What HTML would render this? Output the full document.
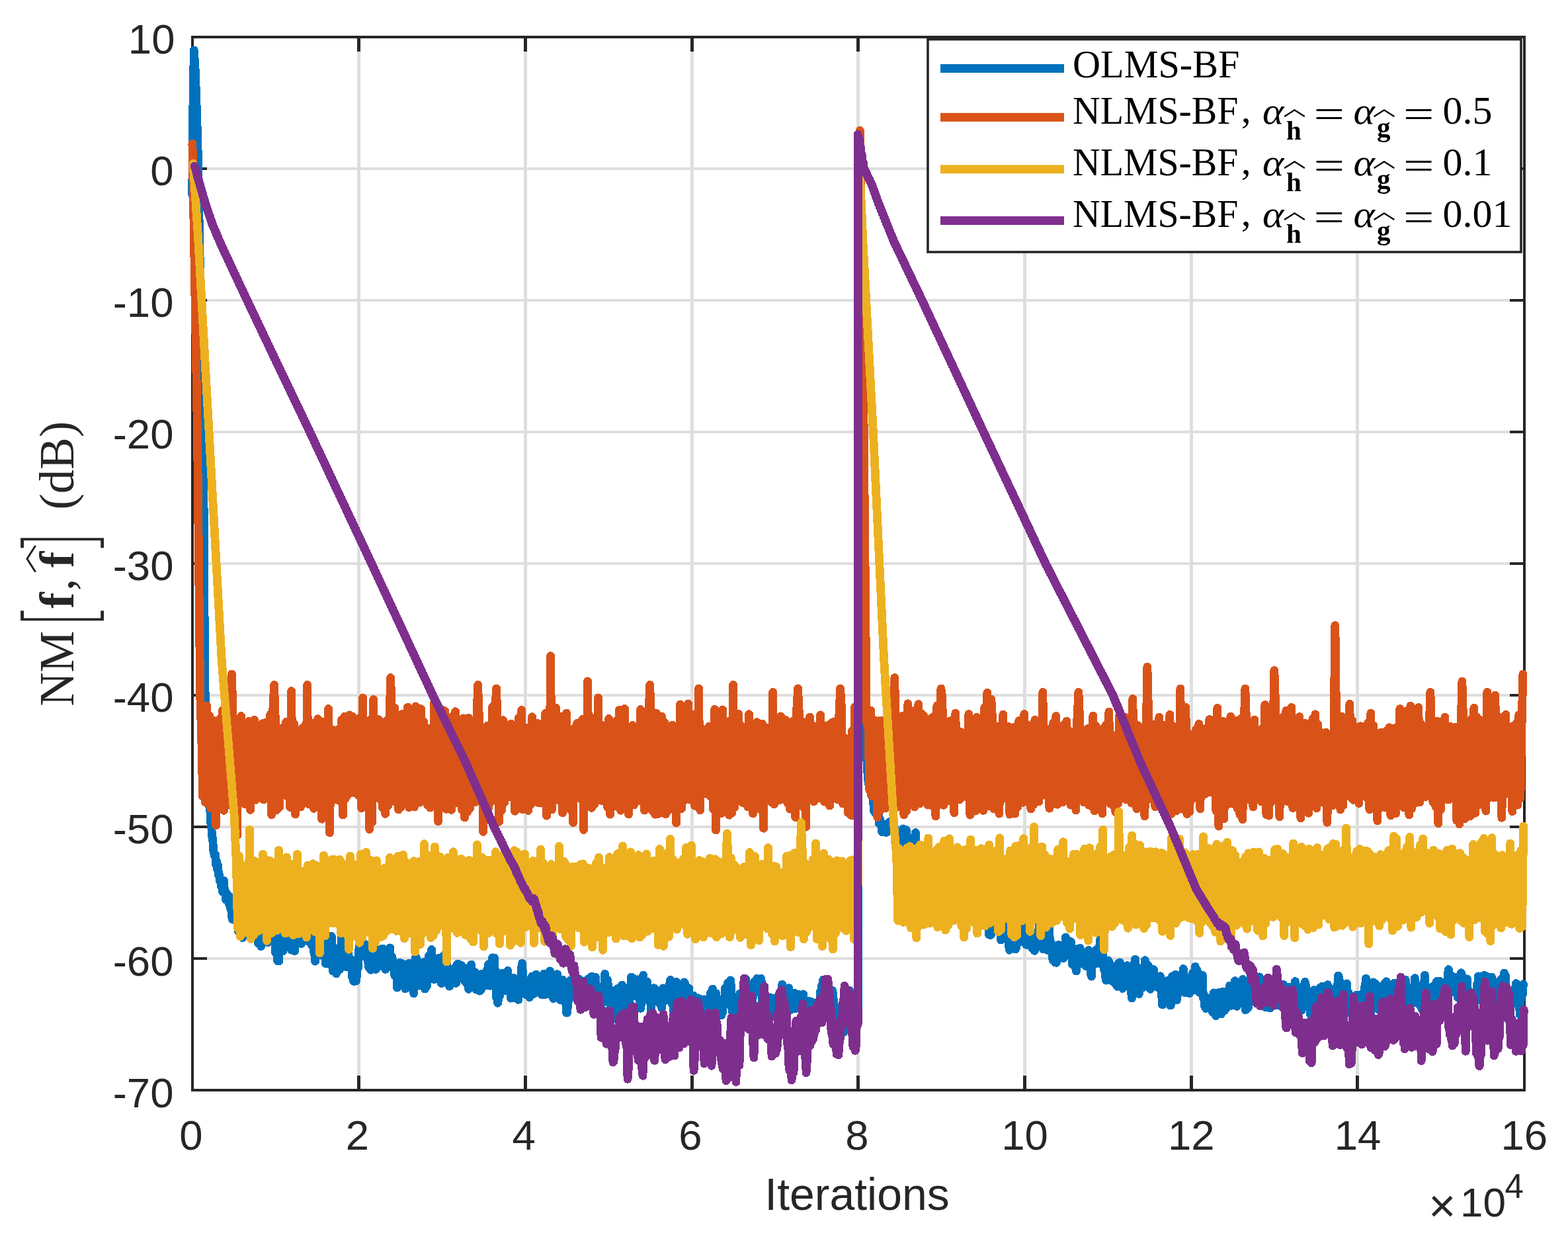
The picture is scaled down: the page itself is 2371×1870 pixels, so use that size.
<!DOCTYPE html>
<html><head><meta charset="utf-8"><title>NM plot</title><style>html,body{margin:0;padding:0;background:#fff;overflow:hidden}svg{display:block}</style></head><body>
<svg width="2371" height="1870" viewBox="0 0 2371 1870">
<rect x="0" y="0" width="2371" height="1870" fill="#ffffff"/>
<rect x="540" y="58" width="5" height="1588" fill="#dedede"/>
<rect x="792" y="58" width="5" height="1588" fill="#dedede"/>
<rect x="1044" y="58" width="5" height="1588" fill="#dedede"/>
<rect x="1295" y="58" width="5" height="1588" fill="#dedede"/>
<rect x="1547" y="58" width="5" height="1588" fill="#dedede"/>
<rect x="1799" y="58" width="5" height="1588" fill="#dedede"/>
<rect x="2050" y="58" width="5" height="1588" fill="#dedede"/>
<rect x="293" y="253" width="2010" height="4" fill="#dedede"/>
<rect x="293" y="452" width="2010" height="4" fill="#dedede"/>
<rect x="293" y="651" width="2010" height="4" fill="#dedede"/>
<rect x="293" y="850" width="2010" height="4" fill="#dedede"/>
<rect x="293" y="1049" width="2010" height="4" fill="#dedede"/>
<rect x="293" y="1248" width="2010" height="4" fill="#dedede"/>
<rect x="293" y="1447" width="2010" height="4" fill="#dedede"/>
<rect x="289" y="54" width="2018" height="4" fill="#262626"/>
<rect x="289" y="1646" width="2018" height="4" fill="#262626"/>
<rect x="289" y="54" width="4" height="1596" fill="#262626"/>
<rect x="2303" y="54" width="4" height="1596" fill="#262626"/>
<rect x="540" y="1626" width="5" height="20" fill="#262626"/>
<rect x="540" y="58" width="5" height="20" fill="#262626"/>
<rect x="792" y="1626" width="5" height="20" fill="#262626"/>
<rect x="792" y="58" width="5" height="20" fill="#262626"/>
<rect x="1044" y="1626" width="5" height="20" fill="#262626"/>
<rect x="1044" y="58" width="5" height="20" fill="#262626"/>
<rect x="1295" y="1626" width="5" height="20" fill="#262626"/>
<rect x="1295" y="58" width="5" height="20" fill="#262626"/>
<rect x="1547" y="1626" width="5" height="20" fill="#262626"/>
<rect x="1547" y="58" width="5" height="20" fill="#262626"/>
<rect x="1799" y="1626" width="5" height="20" fill="#262626"/>
<rect x="1799" y="58" width="5" height="20" fill="#262626"/>
<rect x="2050" y="1626" width="5" height="20" fill="#262626"/>
<rect x="2050" y="58" width="5" height="20" fill="#262626"/>
<rect x="293" y="253" width="20" height="4" fill="#262626"/>
<rect x="2283" y="253" width="20" height="4" fill="#262626"/>
<rect x="293" y="452" width="20" height="4" fill="#262626"/>
<rect x="2283" y="452" width="20" height="4" fill="#262626"/>
<rect x="293" y="651" width="20" height="4" fill="#262626"/>
<rect x="2283" y="651" width="20" height="4" fill="#262626"/>
<rect x="293" y="850" width="20" height="4" fill="#262626"/>
<rect x="2283" y="850" width="20" height="4" fill="#262626"/>
<rect x="293" y="1049" width="20" height="4" fill="#262626"/>
<rect x="2283" y="1049" width="20" height="4" fill="#262626"/>
<rect x="293" y="1248" width="20" height="4" fill="#262626"/>
<rect x="2283" y="1248" width="20" height="4" fill="#262626"/>
<rect x="293" y="1447" width="20" height="4" fill="#262626"/>
<rect x="2283" y="1447" width="20" height="4" fill="#262626"/>
<polyline fill="none" stroke="#0072bd" stroke-width="12.8" stroke-linejoin="round" stroke-linecap="round" shape-rendering="crispEdges"  points="290.8,294.8 291.3,195.3 293.3,75.9 295.2,105.8 297.0,155.5 298.9,215.2 300.8,314.7 303.3,454.0 307.4,653.0 309.6,1011.2 311.6,1147.6 312.6,1167.1 313.6,1170.2 314.6,1202.3 315.6,1204.6 316.6,1219.3 317.6,1221.0 318.6,1244.3 319.6,1247.5 320.6,1264.3 321.6,1267.6 322.6,1284.7 323.6,1290.2 324.6,1294.3 325.6,1291.9 326.6,1307.3 327.6,1302.8 328.6,1314.7 329.6,1308.7 330.6,1323.4 331.6,1321.9 332.6,1332.2 333.6,1334.0 334.6,1340.0 335.6,1337.0 336.6,1348.3 337.6,1347.8 338.6,1331.4 339.6,1350.6 340.6,1348.3 341.6,1360.3 342.6,1350.2 343.6,1353.8 344.6,1361.9 345.6,1354.0 346.6,1367.6 347.6,1368.3 348.6,1373.4 349.6,1374.5 350.6,1386.4 351.6,1389.9 352.6,1367.4 353.6,1365.8 354.6,1375.7 355.6,1373.2 356.6,1385.6 357.6,1381.2 358.6,1394.9 359.6,1398.3 360.6,1408.6 361.6,1383.8 362.6,1403.4 363.6,1412.5 364.6,1396.5 365.6,1403.2 366.6,1417.6 367.6,1413.6 368.6,1403.9 369.6,1401.7 370.6,1410.2 371.6,1392.0 372.6,1404.7 373.6,1406.4 374.6,1392.1 375.6,1400.2 376.6,1378.5 377.6,1385.0 378.6,1373.5 379.6,1379.0 380.6,1402.3 381.6,1398.5 382.6,1406.0 383.6,1398.7 384.6,1385.4 385.6,1408.7 386.6,1398.5 387.6,1413.8 388.6,1402.7 389.6,1406.6 390.6,1426.3 391.6,1408.1 392.6,1419.7 393.6,1404.6 394.6,1430.7 395.6,1421.3 396.6,1407.0 397.6,1405.5 398.6,1422.3 399.6,1407.1 400.6,1416.8 401.6,1412.0 402.6,1401.8 403.6,1406.0 404.6,1424.9 405.6,1410.2 406.6,1397.2 407.6,1411.5 408.6,1421.3 409.6,1414.0 410.6,1401.1 411.6,1394.6 412.6,1406.1 413.6,1401.9 414.6,1421.9 415.6,1421.8 416.6,1440.2 417.6,1441.6 418.6,1420.3 419.6,1452.5 420.6,1443.5 421.6,1452.9 422.6,1431.5 423.6,1433.5 424.6,1422.5 425.6,1414.4 426.6,1432.0 427.6,1437.8 428.6,1419.7 429.6,1420.1 430.6,1430.5 431.6,1430.6 432.6,1416.4 433.6,1420.3 434.6,1409.4 435.6,1406.9 436.6,1417.0 437.6,1420.4 438.6,1409.0 439.6,1423.1 440.6,1436.2 441.6,1433.8 442.6,1418.3 443.6,1430.5 444.6,1422.8 445.6,1437.8 446.6,1417.6 447.6,1409.9 448.6,1400.4 449.6,1403.7 450.6,1415.5 451.6,1418.3 452.6,1401.4 453.6,1414.0 454.6,1396.3 455.6,1426.6 456.6,1415.3 457.6,1417.8 458.6,1407.1 459.6,1422.8 460.6,1399.3 461.6,1401.1 462.6,1410.1 463.6,1406.1 464.6,1422.2 465.6,1422.8 466.6,1406.8 467.6,1410.2 468.6,1398.7 469.6,1421.7 470.6,1396.8 471.6,1429.3 472.6,1419.2 473.6,1418.2 474.6,1439.5 475.6,1441.0 476.6,1453.2 477.6,1430.4 478.6,1444.2 479.6,1436.9 480.6,1421.8 481.6,1419.2 482.6,1426.1 483.6,1430.2 484.6,1444.2 485.6,1437.7 486.6,1415.4 487.6,1420.7 488.6,1433.7 489.6,1427.1 490.6,1438.6 491.6,1442.4 492.6,1457.0 493.6,1455.3 494.6,1432.7 495.6,1430.5 496.6,1447.6 497.6,1434.7 498.6,1448.2 499.6,1437.3 500.6,1415.1 501.6,1416.6 502.6,1461.6 503.6,1468.1 504.6,1454.1 505.6,1458.1 506.6,1444.3 507.6,1455.8 508.6,1471.9 509.6,1450.1 510.6,1433.8 511.6,1445.8 512.6,1462.5 513.6,1465.7 514.6,1430.7 515.6,1435.0 516.6,1411.6 517.6,1406.4 518.6,1415.8 519.6,1417.8 520.6,1438.1 521.6,1437.5 522.6,1449.6 523.6,1461.5 524.6,1447.9 525.6,1451.2 526.6,1439.3 527.6,1460.5 528.6,1449.7 529.6,1448.8 530.6,1462.5 531.6,1462.2 532.6,1477.5 533.6,1465.4 534.6,1483.3 535.6,1483.5 536.6,1476.0 537.6,1465.5 538.6,1482.9 539.6,1473.1 540.6,1454.9 541.6,1462.3 542.6,1437.4 543.6,1427.6 544.6,1438.8 545.6,1430.9 546.6,1443.2 547.6,1438.5 548.6,1445.9 549.6,1442.2 550.6,1429.4 551.6,1427.0 552.6,1437.2 553.6,1438.2 554.6,1447.7 555.6,1434.0 556.6,1452.2 557.6,1462.8 558.6,1454.8 559.6,1456.6 560.6,1466.2 561.6,1461.8 562.6,1440.3 563.6,1452.5 564.6,1436.1 565.6,1457.4 566.6,1432.5 567.6,1452.0 568.6,1465.5 569.6,1463.7 570.6,1453.9 571.6,1459.0 572.6,1445.1 573.6,1447.4 574.6,1458.1 575.6,1450.3 576.6,1434.9 577.6,1439.9 578.6,1434.0 579.6,1441.5 580.6,1460.8 581.6,1457.6 582.6,1465.4 583.6,1461.5 584.6,1443.3 585.6,1446.9 586.6,1456.9 587.6,1454.4 588.6,1440.5 589.6,1432.9 590.6,1461.8 591.6,1459.3 592.6,1446.0 593.6,1460.4 594.6,1452.1 595.6,1461.7 596.6,1474.7 597.6,1471.7 598.6,1464.7 599.6,1468.8 600.6,1493.2 601.6,1482.9 602.6,1458.8 603.6,1467.7 604.6,1455.5 605.6,1466.5 606.6,1456.9 607.6,1456.3 608.6,1476.0 609.6,1481.1 610.6,1490.6 611.6,1481.0 612.6,1494.8 613.6,1476.3 614.6,1486.3 615.6,1477.3 616.6,1467.0 617.6,1474.2 618.6,1456.1 619.6,1470.0 620.6,1460.3 621.6,1478.2 622.6,1465.4 623.6,1459.9 624.6,1496.6 625.6,1501.8 626.6,1479.3 627.6,1478.1 628.6,1446.2 629.6,1448.1 630.6,1466.8 631.6,1460.1 632.6,1488.2 633.6,1490.1 634.6,1470.7 635.6,1475.0 636.6,1460.2 637.6,1470.3 638.6,1460.0 639.6,1454.8 640.6,1476.8 641.6,1471.3 642.6,1495.1 643.6,1472.0 644.6,1491.8 645.6,1490.3 646.6,1451.6 647.6,1458.0 648.6,1444.8 649.6,1447.3 650.6,1458.6 651.6,1457.9 652.6,1435.5 653.6,1463.4 654.6,1480.1 655.6,1465.5 656.6,1480.6 657.6,1475.0 658.6,1455.5 659.6,1474.2 660.6,1456.7 661.6,1466.1 662.6,1455.6 663.6,1448.2 664.6,1470.3 665.6,1466.3 666.6,1483.4 667.6,1486.7 668.6,1451.6 669.6,1445.6 670.6,1464.1 671.6,1465.1 672.6,1448.4 673.6,1458.3 674.6,1439.4 675.6,1456.9 676.6,1477.9 677.6,1479.9 678.6,1464.7 679.6,1491.2 680.6,1475.5 681.6,1480.5 682.6,1465.1 683.6,1483.9 684.6,1474.3 685.6,1475.1 686.6,1485.0 687.6,1471.6 688.6,1483.8 689.6,1486.3 690.6,1458.6 691.6,1469.1 692.6,1457.0 693.6,1461.5 694.6,1474.1 695.6,1461.8 696.6,1472.9 697.6,1459.5 698.6,1472.8 699.6,1475.7 700.6,1462.6 701.6,1465.2 702.6,1483.5 703.6,1482.6 704.6,1469.7 705.6,1478.1 706.6,1488.3 707.6,1479.6 708.6,1495.4 709.6,1465.1 710.6,1476.8 711.6,1466.6 712.6,1458.1 713.6,1467.4 714.6,1487.3 715.6,1487.7 716.6,1474.3 717.6,1482.7 718.6,1469.8 719.6,1495.8 720.6,1474.5 721.6,1478.7 722.6,1496.9 723.6,1488.4 724.6,1494.5 725.6,1498.1 726.6,1487.4 727.6,1495.1 728.6,1472.2 729.6,1476.3 730.6,1485.5 731.6,1483.2 732.6,1475.6 733.6,1475.6 734.6,1487.0 735.6,1489.2 736.6,1465.6 737.6,1467.7 738.6,1458.0 739.6,1457.2 740.6,1490.3 741.6,1483.9 742.6,1460.5 743.6,1456.4 744.6,1447.8 746.1,1448.2 747.6,1448.1 748.6,1477.4 749.6,1483.5 750.6,1508.6 751.6,1503.3 752.6,1516.3 753.6,1510.3 754.6,1495.2 755.6,1505.4 756.6,1486.6 757.6,1486.3 758.6,1471.1 759.6,1475.6 760.6,1498.1 761.6,1495.3 762.6,1479.1 763.6,1482.8 764.6,1476.1 765.6,1484.4 766.6,1498.0 767.6,1467.4 768.6,1483.7 769.6,1485.4 770.6,1495.7 771.6,1491.4 772.6,1509.2 773.6,1495.0 774.6,1503.9 775.6,1509.0 776.6,1478.2 777.6,1496.4 778.6,1487.0 779.6,1480.7 780.6,1497.9 781.6,1493.7 782.6,1505.4 783.6,1511.4 784.6,1493.7 785.6,1495.6 786.6,1481.0 787.6,1494.4 788.6,1462.1 789.6,1456.3 790.6,1475.2 791.6,1478.5 792.6,1501.6 793.6,1495.9 794.6,1503.3 795.6,1503.9 796.6,1483.9 797.6,1485.4 798.6,1504.0 799.6,1487.6 800.6,1507.7 801.6,1503.8 802.6,1483.4 803.6,1493.2 804.6,1476.0 805.6,1493.7 806.6,1502.6 807.6,1499.9 808.6,1484.6 809.6,1483.6 810.6,1473.1 811.6,1489.6 812.6,1476.3 813.6,1491.0 814.6,1480.2 815.6,1483.8 816.6,1496.4 817.6,1502.3 818.6,1488.1 819.6,1503.9 820.6,1485.7 821.6,1487.5 822.6,1472.0 823.6,1482.7 824.6,1503.4 825.6,1502.5 826.6,1480.4 827.6,1478.1 828.6,1495.4 829.6,1502.6 830.6,1473.6 831.6,1467.9 832.6,1484.5 833.6,1481.2 834.6,1498.7 835.6,1496.2 836.6,1509.6 837.6,1505.0 838.6,1486.2 839.6,1490.5 840.6,1483.4 841.6,1485.9 842.6,1472.7 843.6,1479.0 844.6,1494.4 845.6,1493.5 846.6,1509.5 847.6,1511.9 848.6,1493.0 849.6,1490.4 850.6,1481.2 851.6,1485.7 852.6,1500.2 853.6,1490.2 854.6,1511.6 855.6,1514.2 856.6,1531.0 857.6,1531.2 858.6,1518.8 859.6,1511.6 860.6,1487.8 861.6,1497.1 862.6,1481.8 863.6,1488.4 864.6,1506.8 865.6,1504.0 866.6,1492.0 867.6,1496.9 868.6,1479.3 869.6,1480.5 870.6,1488.6 871.6,1500.8 872.6,1490.9 873.6,1495.9 874.6,1485.8 875.6,1480.2 876.6,1510.8 877.6,1508.9 878.6,1484.4 879.6,1492.2 880.6,1511.5 881.6,1511.0 882.6,1522.5 883.6,1515.0 884.6,1502.9 885.6,1501.7 886.6,1515.1 887.6,1497.7 888.6,1481.6 889.6,1479.6 890.6,1491.0 891.6,1497.0 892.6,1485.3 893.6,1484.8 894.6,1476.1 895.6,1483.6 896.6,1513.8 897.6,1488.1 898.6,1498.1 899.6,1494.6 900.6,1477.4 901.6,1494.7 902.6,1509.8 903.6,1505.5 904.6,1524.8 905.6,1512.6 906.6,1499.1 907.6,1510.8 908.6,1495.8 909.6,1510.3 910.6,1499.4 911.6,1515.8 912.6,1490.0 913.6,1493.6 914.6,1472.3 915.6,1495.1 916.6,1486.1 917.6,1493.7 918.6,1481.4 919.6,1491.0 920.6,1499.5 921.6,1495.0 922.6,1514.9 923.6,1523.7 924.6,1508.8 925.6,1532.9 926.6,1519.6 927.6,1527.3 928.6,1535.3 929.6,1539.6 930.6,1523.1 931.6,1522.8 932.6,1505.9 933.6,1494.6 934.6,1512.0 935.6,1508.5 936.6,1530.3 937.6,1525.9 938.6,1504.8 939.6,1504.0 940.6,1489.1 941.6,1496.6 942.6,1514.4 943.6,1535.8 944.6,1505.3 945.6,1500.9 946.6,1509.2 947.6,1507.5 948.6,1492.9 949.6,1505.3 950.6,1521.2 951.6,1511.1 952.6,1491.2 953.6,1493.7 954.6,1477.1 955.6,1494.2 956.6,1478.4 957.6,1492.3 958.6,1480.8 959.6,1489.8 960.6,1505.5 961.6,1499.6 962.6,1485.3 963.6,1480.8 964.6,1493.6 965.6,1486.5 966.6,1504.7 967.6,1511.3 968.6,1524.4 969.6,1516.0 970.6,1490.0 971.6,1507.1 972.6,1474.3 973.6,1482.2 974.6,1496.6 975.6,1487.5 976.6,1499.0 977.6,1494.8 978.6,1484.1 979.6,1494.2 980.6,1504.7 981.6,1513.0 982.6,1502.2 983.6,1515.1 984.6,1528.4 985.6,1511.2 986.6,1499.5 987.6,1512.4 988.6,1493.7 989.6,1503.9 990.6,1495.1 991.6,1511.5 992.6,1502.0 993.6,1503.3 994.6,1512.9 995.6,1506.9 996.6,1516.4 997.6,1515.5 998.6,1503.2 999.6,1509.3 1000.6,1523.9 1001.6,1514.3 1002.6,1493.9 1003.6,1501.4 1004.6,1510.3 1005.6,1504.1 1006.6,1511.7 1007.6,1510.9 1008.6,1501.7 1009.6,1494.4 1010.6,1503.8 1011.6,1511.9 1012.6,1487.8 1013.6,1481.4 1014.6,1503.0 1015.6,1501.8 1016.6,1518.8 1017.6,1513.3 1018.6,1529.2 1019.6,1516.8 1020.6,1497.0 1021.6,1497.6 1022.6,1484.4 1023.6,1493.1 1024.6,1504.4 1025.6,1496.7 1026.6,1511.0 1027.6,1495.4 1028.6,1512.4 1029.6,1502.2 1030.6,1510.1 1031.6,1506.5 1032.6,1526.5 1033.6,1504.8 1034.6,1484.8 1035.6,1486.1 1036.6,1509.8 1037.6,1508.3 1038.6,1525.0 1039.6,1516.2 1040.6,1505.8 1041.6,1493.7 1042.6,1509.4 1043.6,1510.4 1044.6,1518.2 1045.6,1523.6 1046.6,1513.8 1047.6,1515.0 1048.6,1505.1 1049.6,1509.0 1050.6,1519.1 1051.6,1511.2 1052.6,1536.8 1053.6,1540.3 1054.6,1518.8 1055.6,1508.8 1056.6,1526.9 1057.6,1515.0 1058.6,1535.2 1059.6,1535.7 1060.6,1523.9 1061.6,1540.9 1062.6,1532.2 1063.6,1538.4 1064.6,1510.9 1065.6,1512.7 1066.6,1525.2 1067.6,1525.9 1068.6,1513.2 1069.6,1525.9 1070.6,1537.0 1071.6,1522.9 1072.6,1545.1 1073.6,1530.2 1074.6,1500.8 1075.6,1502.8 1076.6,1517.2 1077.6,1495.1 1078.6,1513.4 1079.6,1523.1 1080.6,1510.1 1081.6,1511.6 1082.6,1501.6 1083.6,1511.1 1084.6,1520.1 1085.6,1520.5 1086.6,1534.5 1087.6,1532.0 1088.6,1516.1 1089.6,1526.2 1090.6,1535.0 1091.6,1515.3 1092.6,1530.8 1093.6,1517.0 1094.6,1510.1 1095.6,1510.7 1096.6,1493.8 1097.6,1495.0 1098.6,1506.8 1099.6,1505.9 1100.6,1485.7 1101.6,1488.8 1102.6,1499.9 1103.6,1493.5 1104.6,1481.9 1105.6,1492.5 1106.6,1524.4 1107.6,1524.5 1108.6,1548.7 1109.6,1524.1 1110.6,1539.8 1111.6,1527.5 1112.6,1513.2 1113.6,1511.5 1114.6,1518.1 1115.6,1519.5 1116.6,1511.0 1117.6,1514.7 1118.6,1502.2 1119.6,1513.1 1120.6,1526.6 1121.6,1513.4 1122.6,1501.3 1123.6,1505.5 1124.6,1493.6 1125.6,1501.1 1126.6,1481.9 1127.6,1479.8 1128.6,1507.6 1129.6,1506.5 1130.6,1523.3 1131.6,1524.5 1132.6,1505.5 1133.6,1510.3 1134.6,1528.0 1135.6,1521.6 1136.6,1508.2 1137.6,1522.1 1138.6,1497.8 1139.6,1501.2 1140.6,1484.1 1141.6,1501.4 1142.6,1486.3 1143.6,1481.7 1144.6,1479.3 1145.6,1485.2 1146.6,1491.3 1147.6,1485.7 1148.6,1497.7 1149.6,1484.7 1150.6,1479.1 1151.6,1485.9 1152.6,1514.4 1153.6,1504.1 1154.6,1515.4 1155.6,1519.3 1156.6,1531.2 1157.6,1525.6 1158.6,1548.3 1159.6,1548.8 1160.6,1534.6 1161.6,1530.3 1162.6,1521.3 1163.6,1521.3 1164.6,1507.9 1165.6,1512.4 1166.6,1532.5 1167.6,1519.1 1168.6,1537.2 1169.6,1524.5 1170.6,1509.4 1171.6,1516.1 1172.6,1531.2 1173.6,1529.9 1174.6,1524.4 1175.6,1525.5 1176.6,1506.0 1177.6,1503.7 1178.6,1514.2 1179.6,1518.5 1180.6,1498.7 1181.6,1496.9 1182.6,1488.2 1183.6,1502.7 1184.6,1520.3 1185.6,1515.9 1186.6,1524.9 1187.6,1515.9 1188.6,1502.6 1189.6,1511.6 1190.6,1495.7 1191.6,1505.1 1192.6,1493.6 1193.6,1501.6 1194.6,1505.0 1195.6,1508.9 1196.6,1526.3 1197.6,1521.1 1198.6,1506.3 1199.6,1514.4 1200.6,1507.1 1201.6,1501.3 1202.6,1523.7 1203.6,1524.8 1204.6,1505.2 1205.6,1517.8 1206.6,1505.0 1207.6,1503.5 1208.6,1514.0 1209.6,1510.5 1210.6,1516.8 1211.6,1519.3 1212.6,1507.3 1213.6,1524.3 1214.6,1502.9 1215.6,1522.2 1216.6,1542.3 1217.6,1536.6 1218.6,1523.6 1219.6,1537.9 1220.6,1515.7 1221.6,1526.8 1222.6,1514.5 1223.6,1513.5 1224.6,1532.8 1225.6,1535.6 1226.6,1514.3 1227.6,1534.3 1228.6,1543.0 1229.6,1550.9 1230.6,1541.7 1231.6,1550.9 1232.6,1543.0 1233.6,1533.7 1234.6,1522.7 1235.6,1515.3 1236.6,1525.3 1237.6,1528.1 1238.6,1513.3 1239.6,1518.5 1240.6,1498.6 1241.6,1504.4 1242.6,1489.9 1243.6,1496.3 1244.6,1481.4 1245.6,1481.8 1246.6,1489.0 1247.6,1489.1 1248.6,1515.9 1249.6,1507.4 1250.6,1492.5 1251.6,1495.8 1252.6,1509.2 1253.6,1507.3 1254.6,1521.5 1255.6,1516.5 1256.6,1526.1 1257.6,1523.6 1258.6,1497.6 1259.6,1502.1 1260.6,1516.4 1261.6,1521.4 1262.6,1527.5 1263.6,1522.4 1264.6,1532.9 1265.6,1525.1 1266.6,1539.4 1267.6,1536.1 1268.6,1556.2 1269.6,1555.0 1270.6,1538.9 1271.6,1528.9 1272.6,1550.1 1273.6,1548.4 1274.6,1557.6 1275.6,1560.8 1276.6,1542.8 1277.6,1537.1 1278.6,1545.7 1279.6,1551.9 1280.6,1541.5 1281.6,1549.1 1282.6,1518.6 1283.6,1529.4 1284.6,1497.4 1285.6,1504.8 1286.6,1525.4 1287.6,1534.5 1288.6,1548.9 1289.6,1535.1 1290.6,1547.7 1291.6,1550.4 1292.6,1528.6 1293.6,1531.5 1294.6,1523.1 1295.6,1533.4 1296.6,1542.3 1297.8,1528.6 1297.9,255.0 1299.6,235.1 1301.5,653.0 1305.3,1051.0 1312.4,1176.9 1313.4,1184.7 1314.4,1186.0 1315.4,1193.7 1316.4,1192.2 1317.4,1201.7 1318.4,1200.5 1319.4,1205.4 1320.4,1206.6 1321.4,1225.7 1322.4,1222.4 1323.4,1228.8 1324.4,1227.4 1325.4,1219.2 1326.4,1232.7 1327.4,1227.1 1328.4,1230.0 1329.4,1245.4 1330.4,1237.8 1331.4,1245.0 1332.4,1245.2 1333.4,1256.4 1334.4,1258.0 1335.4,1250.6 1336.4,1252.6 1337.4,1247.1 1338.4,1248.6 1339.4,1255.0 1340.4,1258.5 1341.4,1245.3 1342.4,1250.0 1343.4,1244.1 1344.4,1242.7 1345.4,1251.5 1346.4,1247.3 1347.4,1253.9 1348.4,1247.0 1349.4,1251.8 1350.4,1253.1 1351.4,1244.5 1352.4,1249.7 1353.4,1273.0 1354.4,1269.0 1355.4,1280.4 1356.4,1276.6 1357.4,1290.1 1358.4,1295.2 1359.4,1274.1 1360.4,1286.3 1361.4,1276.5 1362.4,1285.9 1363.4,1272.4 1364.4,1270.2 1365.4,1252.9 1366.4,1254.1 1367.4,1273.6 1368.4,1269.6 1369.4,1260.9 1370.4,1254.7 1371.4,1266.5 1372.4,1267.4 1373.4,1279.2 1374.4,1283.3 1375.4,1299.3 1376.4,1294.0 1377.4,1268.6 1378.4,1275.3 1379.4,1290.3 1380.4,1286.2 1381.4,1276.5 1382.4,1278.2 1383.4,1264.2 1384.4,1258.7 1385.4,1284.6 1386.4,1283.9 1387.4,1294.1 1388.4,1288.3 1389.4,1296.4 1390.4,1300.1 1391.4,1290.2 1392.4,1306.0 1393.4,1294.4 1394.4,1317.8 1395.4,1296.3 1396.4,1300.9 1397.4,1288.2 1398.4,1304.3 1399.4,1282.7 1400.4,1283.3 1401.4,1306.5 1402.4,1310.9 1403.4,1293.7 1404.4,1293.2 1405.4,1316.3 1406.4,1308.3 1407.4,1324.8 1408.4,1328.3 1409.4,1314.2 1410.4,1316.8 1411.4,1333.9 1412.4,1327.7 1413.4,1316.1 1414.4,1334.5 1415.4,1355.5 1416.4,1355.8 1417.4,1338.6 1418.4,1340.9 1419.4,1330.4 1420.4,1339.9 1421.4,1325.5 1422.4,1311.6 1423.4,1329.6 1424.4,1340.6 1425.4,1332.5 1426.4,1344.0 1427.4,1335.1 1428.4,1335.9 1429.4,1322.9 1430.4,1351.8 1431.4,1338.6 1432.4,1351.1 1433.4,1336.4 1434.4,1356.3 1435.4,1346.1 1436.4,1349.9 1437.4,1334.0 1438.4,1330.8 1439.4,1339.6 1440.4,1332.0 1441.4,1349.0 1442.4,1344.1 1443.4,1366.7 1444.4,1369.6 1445.4,1383.0 1446.4,1370.0 1447.4,1383.3 1448.4,1386.5 1449.4,1366.9 1450.4,1369.9 1451.4,1351.2 1452.4,1371.9 1453.4,1380.8 1454.4,1383.5 1455.4,1364.9 1456.4,1365.9 1457.4,1355.6 1458.4,1359.1 1459.4,1348.9 1460.4,1358.2 1461.4,1346.0 1462.4,1368.0 1463.4,1344.7 1464.4,1353.7 1465.4,1337.3 1466.4,1349.3 1467.4,1368.9 1468.4,1372.5 1469.4,1366.5 1470.4,1369.4 1471.4,1359.1 1472.4,1348.5 1473.4,1362.4 1474.4,1370.9 1475.4,1362.5 1476.4,1371.8 1477.4,1392.7 1478.4,1391.2 1479.4,1401.2 1480.4,1399.9 1481.4,1382.0 1482.4,1378.7 1483.4,1384.8 1484.4,1380.2 1485.4,1392.6 1486.4,1393.0 1487.4,1385.9 1488.4,1395.3 1489.4,1382.9 1490.4,1387.7 1491.4,1371.8 1492.4,1372.8 1493.4,1395.2 1494.4,1378.3 1495.4,1412.6 1496.4,1403.2 1497.4,1413.8 1498.4,1413.3 1499.4,1402.8 1500.4,1403.6 1501.4,1387.6 1502.4,1394.6 1503.4,1376.1 1504.4,1382.6 1505.4,1399.0 1506.4,1406.0 1507.4,1385.1 1508.4,1383.8 1509.4,1408.2 1510.4,1393.8 1511.4,1407.4 1512.4,1405.3 1513.4,1421.0 1514.4,1412.6 1515.4,1384.3 1516.4,1385.1 1517.4,1376.6 1518.4,1384.4 1519.4,1376.2 1520.4,1380.7 1521.4,1368.1 1522.4,1368.3 1523.4,1376.6 1524.4,1380.8 1525.4,1429.1 1526.4,1436.2 1527.4,1423.3 1528.4,1414.4 1529.4,1399.4 1530.4,1399.8 1531.4,1411.1 1532.4,1411.0 1533.4,1430.7 1534.4,1409.6 1535.4,1434.9 1536.4,1433.3 1537.4,1400.3 1538.4,1396.8 1539.4,1416.3 1540.4,1407.0 1541.4,1414.3 1542.4,1409.4 1543.4,1403.9 1544.4,1424.0 1545.4,1409.7 1546.4,1410.1 1547.4,1405.5 1548.4,1398.8 1549.4,1417.8 1550.4,1413.4 1551.4,1428.0 1552.4,1421.9 1553.4,1427.5 1554.4,1429.0 1555.4,1420.7 1556.4,1420.8 1557.4,1427.9 1558.4,1427.1 1559.4,1408.0 1560.4,1432.9 1561.4,1416.9 1562.4,1415.9 1563.4,1434.0 1564.4,1437.4 1565.4,1423.3 1566.4,1420.9 1567.4,1429.6 1568.4,1431.4 1569.4,1419.5 1570.4,1417.0 1571.4,1394.5 1572.4,1409.6 1573.4,1394.8 1574.4,1411.9 1575.4,1429.3 1576.4,1423.8 1577.4,1434.9 1578.4,1429.1 1579.4,1416.4 1580.4,1416.0 1581.4,1400.7 1582.4,1413.4 1583.4,1436.4 1584.4,1430.4 1585.4,1412.9 1586.4,1400.3 1587.4,1421.7 1588.4,1422.9 1589.4,1432.5 1590.4,1429.0 1591.4,1447.8 1592.4,1451.7 1593.4,1441.3 1594.4,1443.8 1595.4,1455.1 1596.4,1437.9 1597.4,1455.3 1598.4,1446.5 1599.4,1429.7 1600.4,1428.4 1601.4,1441.9 1602.4,1429.2 1603.4,1440.9 1604.4,1447.6 1605.4,1433.7 1606.4,1429.4 1607.4,1448.5 1608.4,1448.2 1609.4,1433.0 1610.4,1430.4 1611.4,1416.8 1612.4,1418.7 1613.4,1424.6 1614.4,1422.6 1615.4,1432.9 1616.4,1424.3 1617.4,1443.7 1618.4,1439.5 1619.4,1423.7 1620.4,1431.6 1621.4,1457.6 1622.4,1447.1 1623.4,1455.0 1624.4,1447.6 1625.4,1462.1 1626.4,1459.1 1627.4,1468.0 1628.4,1459.8 1629.4,1434.5 1630.4,1434.4 1631.4,1450.8 1632.4,1450.5 1633.4,1433.5 1634.4,1439.5 1635.4,1451.6 1636.4,1448.8 1637.4,1456.5 1638.4,1455.2 1639.4,1441.3 1640.4,1447.0 1641.4,1460.4 1642.4,1458.5 1643.4,1449.3 1644.4,1450.1 1645.4,1438.0 1646.4,1436.5 1647.4,1452.2 1648.4,1445.4 1649.4,1472.2 1650.4,1476.2 1651.4,1453.0 1652.4,1443.9 1653.4,1454.4 1654.4,1445.2 1655.4,1454.8 1656.4,1457.1 1657.4,1435.6 1658.4,1440.6 1659.4,1448.5 1660.4,1433.6 1661.4,1454.6 1662.4,1435.8 1663.4,1421.1 1664.4,1428.5 1665.4,1457.7 1666.4,1455.1 1667.4,1443.1 1668.4,1455.5 1669.4,1465.8 1670.4,1459.0 1671.4,1474.7 1672.4,1482.2 1673.4,1470.2 1674.4,1472.2 1675.4,1451.9 1676.4,1452.6 1677.4,1462.2 1678.4,1457.2 1679.4,1473.5 1680.4,1467.3 1681.4,1483.3 1682.4,1480.4 1683.4,1466.7 1684.4,1471.7 1685.4,1486.1 1686.4,1472.7 1687.4,1484.9 1688.4,1480.9 1689.4,1491.4 1690.4,1470.8 1691.4,1455.9 1692.4,1471.1 1693.4,1454.9 1694.4,1467.2 1695.4,1481.2 1696.4,1472.0 1697.4,1494.5 1698.4,1479.3 1699.4,1491.5 1700.4,1480.4 1701.4,1461.8 1702.4,1466.0 1703.4,1485.5 1704.4,1459.6 1705.4,1477.4 1706.4,1469.0 1707.4,1477.6 1708.4,1477.2 1709.4,1492.5 1710.4,1497.7 1711.4,1509.0 1712.4,1499.7 1713.4,1479.6 1714.4,1479.8 1715.4,1456.2 1716.4,1450.2 1717.4,1465.3 1718.4,1461.5 1719.4,1471.7 1720.4,1462.9 1721.4,1491.0 1722.4,1502.5 1723.4,1492.8 1724.4,1492.0 1725.4,1484.7 1726.4,1478.4 1727.4,1493.3 1728.4,1479.1 1729.4,1468.3 1730.4,1473.4 1731.4,1451.7 1732.4,1454.4 1733.4,1471.1 1734.4,1462.9 1735.4,1470.9 1736.4,1459.8 1737.4,1477.9 1738.4,1474.8 1739.4,1495.3 1740.4,1493.1 1741.4,1480.3 1742.4,1478.9 1743.4,1465.2 1744.4,1465.9 1745.4,1475.0 1746.4,1479.5 1747.4,1486.1 1748.4,1483.4 1749.4,1487.6 1750.4,1492.6 1751.4,1477.7 1752.4,1478.7 1753.4,1490.6 1754.4,1475.7 1755.4,1495.8 1756.4,1498.6 1757.4,1518.7 1758.4,1518.7 1759.4,1498.5 1760.4,1495.3 1761.4,1510.1 1762.4,1500.8 1763.4,1494.5 1764.4,1500.8 1765.4,1482.2 1766.4,1482.8 1767.4,1498.0 1768.4,1493.0 1769.4,1519.8 1770.4,1519.9 1771.4,1489.6 1772.4,1476.1 1773.4,1492.9 1774.4,1489.7 1775.4,1505.6 1776.4,1494.5 1777.4,1473.3 1778.4,1500.5 1779.4,1511.8 1780.4,1504.7 1781.4,1483.5 1782.4,1486.9 1783.4,1474.2 1784.4,1478.1 1785.4,1487.1 1786.4,1473.2 1787.4,1480.4 1788.4,1484.9 1789.4,1464.5 1790.4,1484.7 1791.4,1497.0 1792.4,1501.0 1793.4,1482.2 1794.4,1478.1 1795.4,1490.0 1796.4,1479.3 1797.4,1497.1 1798.4,1501.6 1799.4,1492.0 1800.4,1488.5 1801.4,1498.0 1802.4,1497.7 1803.4,1471.1 1804.4,1471.0 1805.4,1482.8 1806.4,1475.7 1807.4,1461.3 1808.4,1470.0 1809.4,1476.1 1810.4,1467.4 1811.4,1474.5 1812.4,1473.8 1813.4,1500.2 1814.4,1500.5 1815.4,1489.2 1816.4,1497.7 1817.4,1475.1 1818.4,1474.3 1819.4,1508.9 1820.4,1504.7 1821.4,1520.7 1822.4,1514.0 1823.4,1524.5 1824.4,1507.8 1825.4,1517.0 1826.4,1511.1 1827.4,1523.8 1828.4,1509.8 1829.4,1522.2 1830.4,1514.5 1831.4,1520.9 1832.4,1514.7 1833.4,1530.1 1834.4,1515.3 1835.4,1500.8 1836.4,1506.3 1837.4,1525.2 1838.4,1535.5 1839.4,1524.9 1840.4,1528.2 1841.4,1504.2 1842.4,1509.4 1843.4,1500.5 1844.4,1504.1 1845.4,1523.1 1846.4,1533.1 1847.4,1511.5 1848.4,1510.4 1849.4,1499.0 1850.4,1503.2 1851.4,1527.7 1852.4,1525.0 1853.4,1507.6 1854.4,1524.2 1855.4,1500.4 1856.4,1503.6 1857.4,1509.6 1858.4,1509.7 1859.4,1490.1 1860.4,1494.8 1861.4,1520.2 1862.4,1520.1 1863.4,1496.0 1864.4,1494.8 1865.4,1506.6 1866.4,1496.7 1867.4,1482.6 1868.4,1492.4 1869.4,1516.4 1870.4,1521.3 1871.4,1498.0 1872.4,1498.3 1873.4,1508.6 1874.4,1509.3 1875.4,1496.3 1876.4,1505.7 1877.4,1485.8 1878.4,1499.9 1879.4,1480.4 1880.4,1495.2 1881.4,1512.8 1882.4,1505.8 1883.4,1526.9 1884.4,1509.9 1885.4,1515.8 1886.4,1507.2 1887.4,1523.6 1888.4,1502.1 1889.4,1514.8 1890.4,1495.7 1891.4,1469.1 1892.4,1496.0 1893.4,1485.1 1894.4,1498.2 1895.4,1473.8 1896.4,1473.3 1897.4,1484.2 1898.4,1483.5 1899.4,1498.9 1900.4,1502.2 1901.4,1484.2 1902.4,1480.2 1903.4,1492.6 1904.4,1476.8 1905.4,1491.3 1906.4,1485.0 1907.4,1498.9 1908.4,1499.1 1909.4,1508.7 1910.4,1503.2 1911.4,1515.8 1912.4,1506.5 1913.4,1522.8 1914.4,1519.5 1915.4,1500.4 1916.4,1498.9 1917.4,1511.6 1918.4,1504.6 1919.4,1520.2 1920.4,1524.1 1921.4,1509.1 1922.4,1510.3 1923.4,1498.6 1924.4,1494.7 1925.4,1483.4 1926.4,1489.6 1927.4,1504.9 1928.4,1499.6 1929.4,1519.4 1930.4,1505.6 1931.4,1517.7 1932.4,1502.1 1933.4,1517.4 1934.4,1520.1 1935.4,1505.2 1936.4,1506.5 1937.4,1518.4 1938.4,1513.9 1939.4,1495.5 1940.4,1488.4 1941.4,1502.0 1942.4,1506.5 1943.4,1494.1 1944.4,1511.9 1945.4,1493.0 1946.4,1493.4 1947.4,1505.6 1948.4,1492.4 1949.4,1512.3 1950.4,1506.9 1951.4,1495.2 1952.4,1506.5 1953.4,1515.5 1954.4,1514.6 1955.4,1498.9 1956.4,1506.9 1957.4,1490.3 1958.4,1483.6 1959.4,1509.8 1960.4,1505.2 1961.4,1525.7 1962.4,1529.2 1963.4,1516.8 1964.4,1527.2 1965.4,1507.2 1966.4,1508.8 1967.4,1527.8 1968.4,1527.0 1969.4,1502.6 1970.4,1507.6 1971.4,1489.3 1972.4,1497.8 1973.4,1484.5 1974.4,1490.7 1975.4,1503.3 1976.4,1498.6 1977.4,1508.0 1978.4,1504.6 1979.4,1514.6 1980.4,1517.3 1981.4,1533.4 1982.4,1517.9 1983.4,1540.9 1984.4,1534.5 1985.4,1499.2 1986.4,1496.7 1987.4,1505.0 1988.4,1511.6 1989.4,1526.8 1990.4,1511.9 1991.4,1520.6 1992.4,1525.8 1993.4,1516.0 1994.4,1521.9 1995.4,1494.0 1996.4,1492.9 1997.4,1505.0 1998.4,1501.1 1999.4,1491.1 2000.4,1505.0 2001.4,1521.0 2002.4,1509.4 2003.4,1494.8 2004.4,1516.1 2005.4,1501.2 2006.4,1516.7 2007.4,1488.6 2008.4,1492.7 2009.4,1507.0 2010.4,1498.8 2011.4,1522.7 2012.4,1523.9 2013.4,1494.8 2014.4,1497.6 2015.4,1512.7 2016.4,1511.6 2017.4,1501.0 2018.4,1511.9 2019.4,1505.6 2020.4,1506.6 2021.4,1496.5 2022.4,1497.1 2023.4,1475.0 2024.4,1476.2 2025.4,1497.2 2026.4,1483.7 2027.4,1494.4 2028.4,1488.0 2029.4,1499.1 2030.4,1493.9 2031.4,1511.2 2032.4,1506.0 2033.4,1519.6 2034.4,1507.7 2035.4,1497.5 2036.4,1486.8 2037.4,1508.6 2038.4,1516.2 2039.4,1501.3 2040.4,1506.8 2041.4,1526.6 2042.4,1518.9 2043.4,1533.0 2044.4,1533.0 2045.4,1521.5 2046.4,1527.7 2047.4,1517.8 2048.4,1528.1 2049.4,1540.9 2050.4,1521.2 2051.4,1504.1 2052.4,1506.4 2053.4,1534.3 2054.4,1535.2 2055.4,1516.3 2056.4,1511.0 2057.4,1530.4 2058.4,1517.2 2059.4,1502.6 2060.4,1521.1 2061.4,1507.6 2062.4,1505.4 2063.4,1492.0 2064.4,1491.2 2065.4,1479.3 2066.4,1483.0 2067.4,1521.5 2068.4,1525.0 2069.4,1531.5 2070.4,1519.2 2071.4,1534.4 2072.4,1539.7 2073.4,1506.2 2074.4,1506.4 2075.4,1487.1 2076.4,1484.9 2077.4,1507.8 2078.4,1504.1 2079.4,1487.0 2080.4,1502.3 2081.4,1490.9 2082.4,1489.8 2083.4,1524.4 2084.4,1525.9 2085.4,1509.2 2086.4,1508.1 2087.4,1526.1 2088.4,1514.2 2089.4,1500.3 2090.4,1498.3 2091.4,1508.3 2092.4,1506.3 2093.4,1487.2 2094.4,1490.1 2095.4,1484.7 2096.4,1483.7 2097.4,1499.0 2098.4,1489.1 2099.4,1509.1 2100.4,1514.9 2101.4,1497.9 2102.4,1499.8 2103.4,1495.4 2104.4,1491.7 2105.4,1501.6 2106.4,1494.1 2107.4,1500.0 2108.4,1486.1 2109.4,1498.3 2110.4,1497.0 2111.4,1509.0 2112.4,1489.4 2113.4,1505.5 2114.4,1503.4 2115.4,1515.4 2116.4,1495.3 2117.4,1516.6 2118.4,1511.9 2119.4,1497.0 2120.4,1497.8 2121.4,1506.3 2122.4,1509.1 2123.4,1496.3 2124.4,1499.2 2125.4,1481.3 2126.4,1498.4 2127.4,1510.8 2128.4,1510.3 2129.4,1529.9 2130.4,1515.8 2131.4,1496.3 2132.4,1499.7 2133.4,1509.6 2134.4,1500.0 2135.4,1516.5 2136.4,1510.7 2137.4,1492.3 2138.4,1496.9 2139.4,1478.6 2140.4,1486.9 2141.4,1499.0 2142.4,1493.0 2143.4,1505.5 2144.4,1496.2 2145.4,1518.0 2146.4,1516.1 2147.4,1499.1 2148.4,1508.6 2149.4,1524.1 2150.4,1515.7 2151.4,1527.8 2152.4,1518.0 2153.4,1488.3 2154.4,1474.2 2155.4,1505.5 2156.4,1505.1 2157.4,1524.4 2158.4,1526.2 2159.4,1514.5 2160.4,1517.9 2161.4,1506.0 2162.4,1509.7 2163.4,1497.9 2164.4,1498.7 2165.4,1491.7 2166.4,1499.2 2167.4,1511.9 2168.4,1508.9 2169.4,1500.1 2170.4,1487.6 2171.4,1519.1 2172.4,1483.5 2173.4,1496.7 2174.4,1511.7 2175.4,1503.9 2176.4,1509.4 2177.4,1483.4 2178.4,1484.4 2179.4,1502.0 2180.4,1492.4 2181.4,1515.9 2182.4,1517.3 2183.4,1500.8 2184.4,1507.3 2185.4,1498.2 2186.4,1516.1 2187.4,1484.5 2188.4,1493.4 2189.4,1472.2 2190.4,1465.6 2191.4,1485.6 2192.4,1484.9 2193.4,1474.2 2194.4,1489.4 2195.4,1479.2 2196.4,1499.9 2197.4,1479.0 2198.4,1480.2 2199.4,1494.3 2200.4,1487.3 2201.4,1479.5 2202.4,1477.1 2203.4,1496.2 2204.4,1508.4 2205.4,1489.8 2206.4,1489.7 2207.4,1504.7 2208.4,1490.4 2209.4,1470.7 2210.4,1474.4 2211.4,1500.5 2212.4,1500.0 2213.4,1510.5 2214.4,1520.7 2215.4,1502.6 2216.4,1510.6 2217.4,1489.1 2218.4,1479.8 2219.4,1498.0 2220.4,1497.0 2221.4,1509.1 2222.4,1515.4 2223.4,1531.0 2224.4,1527.4 2225.4,1515.1 2226.4,1510.4 2227.4,1519.6 2228.4,1505.3 2229.4,1515.7 2230.4,1514.0 2231.4,1504.0 2232.4,1507.3 2233.4,1488.2 2234.4,1503.1 2235.4,1475.8 2236.4,1484.3 2237.4,1511.4 2238.4,1501.1 2239.4,1485.1 2240.4,1491.1 2241.4,1477.7 2242.4,1489.5 2243.4,1481.7 2244.4,1474.4 2245.4,1486.3 2246.4,1475.2 2247.4,1501.0 2248.4,1506.1 2249.4,1519.5 2250.4,1516.0 2251.4,1504.9 2252.4,1513.2 2253.4,1485.2 2254.4,1489.5 2255.4,1477.1 2256.4,1480.2 2257.4,1503.9 2258.4,1494.0 2259.4,1510.4 2260.4,1512.0 2261.4,1503.3 2262.4,1492.3 2263.4,1516.0 2264.4,1512.1 2265.4,1526.5 2266.4,1516.1 2267.4,1493.9 2268.4,1494.3 2269.4,1481.4 2270.4,1480.4 2271.4,1491.0 2272.4,1498.0 2273.4,1478.6 2274.4,1471.1 2275.4,1483.3 2276.4,1475.3 2277.4,1506.5 2278.4,1500.2 2279.4,1524.0 2280.4,1533.9 2281.4,1519.6 2282.4,1521.1 2283.4,1501.2 2284.4,1501.3 2285.4,1511.0 2286.4,1500.5 2287.4,1510.1 2288.4,1509.1 2289.4,1499.0 2290.4,1516.4 2291.4,1493.8 2292.4,1486.6 2293.4,1512.9 2294.4,1510.4 2295.4,1498.0 2296.4,1505.1 2297.4,1520.2 2298.4,1534.4 2299.4,1505.7 2300.4,1501.6 2301.4,1492.7 2302.4,1502.8 2303.4,1487.7"/>
<polyline fill="none" stroke="#d95319" stroke-width="12.8" stroke-linejoin="round" stroke-linecap="round" shape-rendering="crispEdges"  points="290.8,217.2 291.1,225.1 298.4,650.0 302.7,1051.0 304.6,1109.0 306.6,1203.9 308.6,1076.6 310.6,1212.9 312.6,1067.0 314.6,1206.1 316.6,1081.9 318.6,1221.7 320.6,1101.7 322.6,1195.3 324.6,1089.6 326.6,1247.6 328.6,1098.4 330.6,1204.7 332.6,1086.5 334.6,1199.0 336.6,1073.6 338.6,1225.4 340.6,1103.0 342.6,1209.0 344.6,1103.1 346.6,1216.6 348.6,1095.8 350.6,1019.0 352.6,1115.8 354.6,1219.7 356.6,1113.0 358.6,1263.3 360.6,1098.1 362.6,1196.0 364.6,1082.5 366.6,1212.0 368.6,1100.6 370.6,1215.8 372.6,1093.4 374.6,1197.3 376.6,1090.3 378.6,1224.4 380.6,1106.4 382.6,1203.8 384.6,1088.3 386.6,1209.3 388.6,1098.5 390.6,1201.5 392.6,1103.7 394.6,1183.7 396.6,1093.9 398.6,1209.0 400.6,1092.6 402.6,1204.0 404.6,1108.3 406.6,1196.9 408.6,1080.3 410.6,1231.7 412.6,1076.2 414.6,1035.4 416.6,1095.0 418.6,1224.5 420.6,1100.9 422.6,1220.1 424.6,1111.1 426.6,1195.2 428.6,1099.8 430.6,1197.7 432.6,1091.4 434.6,1204.0 436.6,1091.5 438.6,1220.4 440.6,1044.6 442.6,1195.5 444.6,1094.1 446.6,1230.9 448.6,1120.7 450.6,1194.1 452.6,1109.4 454.6,1220.0 456.6,1101.3 458.6,1214.2 460.6,1097.7 462.6,1197.7 464.6,1035.4 466.6,1215.6 468.6,1106.3 470.6,1194.5 472.6,1093.6 474.6,1222.4 476.6,1109.2 478.6,1198.4 480.6,1086.6 482.6,1214.2 484.6,1103.2 486.6,1238.3 488.6,1091.5 490.6,1194.2 492.6,1096.0 494.6,1195.6 496.6,1071.5 498.6,1258.9 500.6,1106.1 502.6,1209.9 504.6,1103.6 506.6,1192.9 508.6,1104.5 510.6,1209.4 512.6,1102.3 514.6,1211.1 516.6,1088.2 518.6,1232.1 520.6,1083.4 522.6,1207.0 524.6,1096.2 526.6,1201.0 528.6,1080.8 530.6,1196.7 532.6,1083.0 534.6,1198.4 536.6,1091.3 538.6,1186.3 540.6,1090.7 542.6,1203.0 544.6,1084.9 546.6,1221.7 548.6,1054.8 550.6,1218.5 552.6,1097.9 554.6,1205.6 556.6,1092.0 558.6,1253.8 560.6,1087.5 562.6,1243.5 564.6,1057.4 566.6,1192.7 568.6,1091.8 570.6,1199.9 572.6,1087.7 574.6,1208.6 576.6,1097.4 578.6,1221.4 580.6,1119.1 582.6,1230.4 584.6,1089.4 586.6,1218.1 588.6,1106.9 590.6,1024.5 592.6,1076.3 594.6,1195.6 596.6,1069.9 598.6,1212.8 600.6,1100.6 602.6,1224.0 604.6,1088.5 606.6,1219.9 608.6,1079.2 610.6,1212.1 612.6,1088.6 614.6,1192.4 616.6,1069.1 618.6,1220.8 620.6,1119.9 622.6,1201.6 624.6,1098.1 626.6,1219.9 628.6,1067.9 630.6,1211.7 632.6,1101.2 634.6,1213.3 636.6,1071.6 638.6,1195.2 640.6,1090.6 642.6,1201.0 644.6,1100.5 646.6,1217.3 648.6,1117.5 650.6,1221.1 652.6,1100.1 654.6,1200.1 656.6,1061.8 658.6,1211.8 660.6,1103.7 662.6,1241.8 664.6,1106.9 666.6,1213.9 668.6,1073.1 670.6,1219.3 672.6,1074.7 674.6,1223.3 676.6,1115.5 678.6,1200.3 680.6,1102.1 682.6,1224.4 684.6,1082.4 686.6,1197.5 688.6,1075.7 690.6,1214.1 692.6,1114.0 694.6,1200.3 696.6,1098.3 698.6,1224.4 700.6,1085.8 702.6,1235.9 704.6,1102.1 706.6,1227.6 708.6,1085.2 710.6,1222.0 712.6,1089.5 714.6,1208.9 716.6,1093.6 718.6,1212.7 720.6,1096.3 722.6,1035.4 724.6,1088.3 726.6,1197.1 728.6,1111.9 730.6,1257.5 732.6,1101.1 734.6,1202.3 736.6,1097.5 738.6,1221.6 740.6,1112.8 742.6,1212.5 744.6,1068.4 746.6,1210.2 748.6,1078.2 750.6,1040.9 752.6,1108.3 754.6,1242.3 756.6,1102.9 758.6,1225.0 760.6,1088.7 762.6,1213.4 764.6,1097.1 766.6,1199.5 768.6,1108.9 770.6,1205.0 772.6,1094.1 774.6,1204.0 776.6,1102.4 778.6,1226.3 780.6,1108.4 782.6,1189.3 784.6,1085.1 786.6,1193.3 788.6,1073.4 790.6,1223.8 792.6,1116.7 794.6,1208.6 796.6,1100.6 798.6,1225.5 800.6,1113.9 802.6,1216.1 804.6,1083.7 806.6,1210.6 808.6,1103.3 810.6,1200.2 812.6,1093.4 814.6,1214.0 816.6,1104.0 818.6,1214.2 820.6,1113.6 822.6,1187.1 824.6,1078.4 826.6,1233.2 828.6,1099.8 830.6,1213.1 832.6,991.6 834.6,1224.0 836.6,1080.2 838.6,1179.6 840.6,1070.1 842.6,1209.3 844.6,1112.7 846.6,1200.0 848.6,1083.7 850.6,1228.9 852.6,1101.8 854.6,1215.6 856.6,1078.1 858.6,1212.8 860.6,1102.2 862.6,1224.3 864.6,1104.8 866.6,1243.6 868.6,1100.6 870.6,1205.4 872.6,1093.4 874.6,1200.8 876.6,1107.3 878.6,1208.2 880.6,1087.4 882.6,1254.5 884.6,1108.1 886.6,1199.4 888.6,1029.9 890.6,1207.1 892.6,1085.0 894.6,1221.4 896.6,1085.2 898.6,1216.3 900.6,1099.1 902.6,1197.7 904.6,1054.9 906.6,1209.8 908.6,1095.4 910.6,1210.7 912.6,1108.5 914.6,1201.9 916.6,1104.8 918.6,1220.6 920.6,1086.5 922.6,1231.2 924.6,1102.6 926.6,1191.7 928.6,1116.1 930.6,1218.6 932.6,1089.3 934.6,1208.2 936.6,1073.1 938.6,1225.3 940.6,1079.3 942.6,1220.7 944.6,1071.5 946.6,1194.5 948.6,1113.5 950.6,1230.9 952.6,1102.6 954.6,1208.4 956.6,1096.5 958.6,1217.0 960.6,1107.9 962.6,1211.5 964.6,1103.9 966.6,1210.8 968.6,1072.5 970.6,1201.7 972.6,1080.1 974.6,1225.1 976.6,1075.9 978.6,1205.8 980.6,1096.7 982.6,1035.4 984.6,1082.7 986.6,1225.7 988.6,1108.8 990.6,1231.2 992.6,1078.2 994.6,1230.8 996.6,1114.9 998.6,1224.9 1000.6,1083.0 1002.6,1229.0 1004.6,1091.6 1006.6,1230.8 1008.6,1126.2 1010.6,1224.9 1012.6,1106.7 1014.6,1195.6 1016.6,1096.1 1018.6,1216.6 1020.6,1116.2 1022.6,1244.2 1024.6,1103.2 1026.6,1191.4 1028.6,1064.8 1030.6,1222.5 1032.6,1083.4 1034.6,1210.4 1036.6,1095.8 1038.6,1208.2 1040.6,1063.8 1042.6,1208.8 1044.6,1111.8 1046.6,1208.5 1048.6,1079.9 1050.6,1218.3 1052.6,1100.4 1054.6,1211.1 1056.6,1040.9 1058.6,1224.7 1060.6,1100.9 1062.6,1200.4 1064.6,1117.0 1066.6,1199.6 1068.6,1117.1 1070.6,1200.8 1072.6,1098.0 1074.6,1204.6 1076.6,1102.1 1078.6,1223.2 1080.6,1072.3 1082.6,1254.9 1084.6,1097.4 1086.6,1204.9 1088.6,1107.8 1090.6,1229.6 1092.6,1072.9 1094.6,1219.9 1096.6,1105.6 1098.6,1216.6 1100.6,1100.2 1102.6,1232.3 1104.6,1089.1 1106.6,1229.4 1108.6,1035.4 1110.6,1220.7 1112.6,1089.6 1114.6,1202.1 1116.6,1079.4 1118.6,1202.2 1120.6,1097.0 1122.6,1213.4 1124.6,1105.6 1126.6,1193.8 1128.6,1105.4 1130.6,1219.7 1132.6,1079.6 1134.6,1197.5 1136.6,1109.0 1138.6,1229.9 1140.6,1102.0 1142.6,1206.1 1144.6,1091.7 1146.6,1211.5 1148.6,1103.4 1150.6,1224.6 1152.6,1094.0 1154.6,1252.3 1156.6,1101.7 1158.6,1191.0 1160.6,1100.2 1162.6,1202.8 1164.6,1102.6 1166.6,1212.8 1168.6,1046.4 1170.6,1215.8 1172.6,1096.1 1174.6,1195.8 1176.6,1091.3 1178.6,1209.8 1180.6,1082.8 1182.6,1196.2 1184.6,1102.0 1186.6,1205.6 1188.6,1088.6 1190.6,1213.7 1192.6,1096.6 1194.6,1223.2 1196.6,1105.7 1198.6,1190.4 1200.6,1089.2 1202.6,1235.5 1204.6,1074.0 1206.6,1040.9 1208.6,1083.1 1210.6,1203.1 1212.6,1090.4 1214.6,1220.5 1216.6,1100.2 1218.6,1250.2 1220.6,1093.9 1222.6,1198.5 1224.6,1084.1 1226.6,1201.4 1228.6,1096.5 1230.6,1211.7 1232.6,1098.7 1234.6,1198.9 1236.6,1106.4 1238.6,1206.5 1240.6,1080.8 1242.6,1207.2 1244.6,1096.5 1246.6,1212.2 1248.6,1105.6 1250.6,1190.7 1252.6,1096.2 1254.6,1218.1 1256.6,1093.5 1258.6,1191.0 1260.6,1091.1 1262.6,1207.1 1264.6,1101.6 1266.6,1208.8 1268.6,1087.9 1270.6,1040.9 1272.6,1071.7 1274.6,1215.1 1276.6,1114.9 1278.6,1198.5 1280.6,1123.0 1282.6,1228.9 1284.6,1124.6 1286.6,1232.4 1288.6,1104.9 1290.6,1232.8 1292.6,1068.7 1294.6,1200.7 1297.1,1170.4 1300.3,197.3 1305.3,553.5 1310.3,1090.8 1312.9,1101.1 1314.9,1194.4 1316.9,1074.3 1318.9,1203.8 1320.9,1087.9 1322.9,1202.0 1324.9,1111.0 1326.9,1235.4 1328.9,1089.7 1330.9,1225.5 1332.9,1089.6 1334.9,1217.6 1336.9,1095.5 1338.9,1222.0 1340.9,1088.9 1342.9,1200.3 1344.9,1101.3 1346.9,1218.3 1348.9,1089.6 1350.9,1232.4 1352.9,1024.5 1354.9,1206.0 1356.9,1093.6 1358.9,1219.5 1360.9,1083.7 1362.9,1213.9 1364.9,1082.1 1366.9,1232.0 1368.9,1094.7 1370.9,1225.8 1372.9,1063.7 1374.9,1207.4 1376.9,1114.7 1378.9,1197.0 1380.9,1074.7 1382.9,1220.0 1384.9,1073.3 1386.9,1193.3 1388.9,1064.6 1390.9,1215.1 1392.9,1078.4 1394.9,1211.1 1396.9,1082.3 1398.9,1205.0 1400.9,1107.8 1402.9,1217.0 1404.9,1094.1 1406.9,1202.0 1408.9,1085.1 1410.9,1219.0 1412.9,1082.7 1414.9,1234.1 1416.9,1066.8 1418.9,1217.0 1420.9,1137.5 1422.9,1040.9 1424.9,1054.3 1426.9,1217.3 1428.9,1100.0 1430.9,1196.5 1432.9,1095.8 1434.9,1210.7 1436.9,1089.8 1438.9,1198.8 1440.9,1101.9 1442.9,1228.7 1444.9,1078.0 1446.9,1200.8 1448.9,1110.8 1450.9,1208.7 1452.9,1106.6 1454.9,1204.8 1456.9,1111.2 1458.9,1202.6 1460.9,1111.8 1462.9,1205.7 1464.9,1079.6 1466.9,1232.2 1468.9,1114.4 1470.9,1225.1 1472.9,1090.7 1474.9,1226.2 1476.9,1084.2 1478.9,1210.4 1480.9,1107.3 1482.9,1190.9 1484.9,1104.2 1486.9,1225.4 1488.9,1069.4 1490.9,1213.0 1492.9,1047.2 1494.9,1219.0 1496.9,1090.6 1498.9,1057.3 1500.9,1092.0 1502.9,1222.9 1504.9,1099.0 1506.9,1197.4 1508.9,1098.0 1510.9,1230.2 1512.9,1105.0 1514.9,1208.5 1516.9,1080.0 1518.9,1201.9 1520.9,1115.9 1522.9,1198.3 1524.9,1098.5 1526.9,1231.2 1528.9,1104.1 1530.9,1210.6 1532.9,1099.6 1534.9,1230.2 1536.9,1119.3 1538.9,1219.9 1540.9,1089.5 1542.9,1208.0 1544.9,1121.2 1546.9,1213.3 1548.9,1079.6 1550.9,1181.7 1552.9,1095.5 1554.9,1212.7 1556.9,1118.0 1558.9,1223.1 1560.9,1131.2 1562.9,1216.4 1564.9,1088.2 1566.9,1193.1 1568.9,1103.8 1570.9,1212.0 1572.9,1112.0 1574.9,1203.2 1576.9,1046.4 1578.9,1200.7 1580.9,1104.4 1582.9,1200.4 1584.9,1102.7 1586.9,1222.2 1588.9,1100.9 1590.9,1216.3 1592.9,1092.5 1594.9,1210.1 1596.9,1082.6 1598.9,1216.3 1600.9,1099.2 1602.9,1196.5 1604.9,1105.9 1606.9,1212.7 1608.9,1095.4 1610.9,1207.2 1612.9,1090.0 1614.9,1205.3 1616.9,1105.3 1618.9,1217.0 1620.9,1111.2 1622.9,1214.1 1624.9,1105.5 1626.9,1225.1 1628.9,1085.8 1630.9,1046.4 1632.9,1092.1 1634.9,1206.9 1636.9,1106.9 1638.9,1212.9 1640.9,1108.9 1642.9,1205.0 1644.9,1101.6 1646.9,1217.3 1648.9,1118.1 1650.9,1213.5 1652.9,1082.0 1654.9,1225.8 1656.9,1097.0 1658.9,1214.8 1660.9,1110.8 1662.9,1205.1 1664.9,1110.2 1666.9,1230.1 1668.9,1100.2 1670.9,1209.5 1672.9,1095.5 1674.9,1212.2 1676.9,1075.9 1678.9,1215.0 1680.9,1120.5 1682.9,1217.7 1684.9,1114.2 1686.9,1227.8 1688.9,1110.8 1690.9,1214.4 1692.9,1080.4 1694.9,1207.0 1696.9,1106.7 1698.9,1205.5 1700.9,1084.1 1702.9,1208.8 1704.9,1085.1 1706.9,1192.9 1708.9,1084.0 1710.9,1214.2 1712.9,1056.4 1714.9,1209.5 1716.9,1100.6 1718.9,1222.8 1720.9,1096.8 1722.9,1212.5 1724.9,1112.1 1726.9,1196.3 1728.9,1102.7 1730.9,1234.1 1732.9,1120.2 1734.9,1008.0 1736.9,1089.5 1738.9,1207.8 1740.9,1103.7 1742.9,1191.4 1744.9,1095.6 1746.9,1219.6 1748.9,1105.4 1750.9,1212.7 1752.9,1084.1 1754.9,1192.3 1756.9,1098.1 1758.9,1215.4 1760.9,1096.1 1762.9,1221.0 1764.9,1100.4 1766.9,1207.0 1768.9,1080.4 1770.9,1230.6 1772.9,1097.0 1774.9,1200.8 1776.9,1103.4 1778.9,1225.8 1780.9,1102.4 1782.9,1202.2 1784.9,1040.9 1786.9,1222.4 1788.9,1106.2 1790.9,1221.7 1792.9,1069.1 1794.9,1230.5 1796.9,1116.2 1798.9,1227.2 1800.9,1113.0 1802.9,1207.4 1804.9,1109.0 1806.9,1199.4 1808.9,1102.6 1810.9,1200.3 1812.9,1094.4 1814.9,1222.8 1816.9,1101.0 1818.9,1202.1 1820.9,1102.8 1822.9,1200.0 1824.9,1100.6 1826.9,1196.0 1828.9,1087.5 1830.9,1197.9 1832.9,1120.6 1834.9,1194.4 1836.9,1095.0 1838.9,1225.9 1840.9,1070.4 1842.9,1249.2 1844.9,1100.3 1846.9,1236.4 1848.9,1090.1 1850.9,1237.8 1852.9,1109.2 1854.9,1216.5 1856.9,1095.7 1858.9,1213.4 1860.9,1083.1 1862.9,1214.7 1864.9,1110.4 1866.9,1216.2 1868.9,1089.6 1870.9,1221.9 1872.9,1099.9 1874.9,1231.5 1876.9,1086.0 1878.9,1238.7 1880.9,1097.5 1882.9,1040.9 1884.9,1099.6 1886.9,1208.4 1888.9,1119.9 1890.9,1198.3 1892.9,1096.5 1894.9,1220.0 1896.9,1088.0 1898.9,1199.7 1900.9,1133.0 1902.9,1206.0 1904.9,1126.3 1906.9,1211.8 1908.9,1101.1 1910.9,1205.9 1912.9,1065.6 1914.9,1231.4 1916.9,1088.9 1918.9,1233.2 1920.9,1092.5 1922.9,1211.6 1924.9,1105.2 1926.9,1013.5 1928.9,1073.8 1930.9,1187.0 1932.9,1096.7 1934.9,1234.7 1936.9,1111.8 1938.9,1211.8 1940.9,1083.0 1942.9,1209.5 1944.9,1074.1 1946.9,1212.0 1948.9,1089.0 1950.9,1204.3 1952.9,1069.4 1954.9,1221.5 1956.9,1100.8 1958.9,1198.6 1960.9,1091.2 1962.9,1217.9 1964.9,1083.5 1966.9,1236.7 1968.9,1114.2 1970.9,1200.3 1972.9,1092.9 1974.9,1197.9 1976.9,1114.3 1978.9,1229.3 1980.9,1103.5 1982.9,1212.0 1984.9,1086.8 1986.9,1194.3 1988.9,1079.7 1990.9,1221.7 1992.9,1095.3 1994.9,1205.5 1996.9,1107.0 1998.9,1213.1 2000.9,1109.2 2002.9,1206.4 2004.9,1107.2 2006.9,1243.4 2008.9,1117.6 2010.9,1190.5 2012.9,1114.0 2014.9,1217.8 2016.9,1106.3 2018.9,945.6 2020.9,1111.2 2022.9,1212.6 2024.9,1091.5 2026.9,1224.0 2028.9,1083.2 2030.9,1217.6 2032.9,1100.9 2034.9,1185.2 2036.9,1101.4 2038.9,1199.6 2040.9,1064.3 2042.9,1205.6 2044.9,1089.0 2046.9,1209.4 2048.9,1098.7 2050.9,1209.3 2052.9,1112.7 2054.9,1214.5 2056.9,1097.7 2058.9,1189.9 2060.9,1098.4 2062.9,1190.9 2064.9,1106.6 2066.9,1206.1 2068.9,1092.7 2070.9,1223.8 2072.9,1078.1 2074.9,1208.0 2076.9,1096.9 2078.9,1189.2 2080.9,1109.2 2082.9,1241.1 2084.9,1108.0 2086.9,1198.0 2088.9,1107.2 2090.9,1220.2 2092.9,1113.6 2094.9,1221.1 2096.9,1104.7 2098.9,1209.7 2100.9,1099.7 2102.9,1232.7 2104.9,1121.6 2106.9,1207.9 2108.9,1100.8 2110.9,1229.5 2112.9,1104.6 2114.9,1200.6 2116.9,1071.6 2118.9,1216.1 2120.9,1098.7 2122.9,1221.0 2124.9,1074.9 2126.9,1214.5 2128.9,1114.2 2130.9,1231.9 2132.9,1067.1 2134.9,1222.5 2136.9,1080.1 2138.9,1214.5 2140.9,1120.5 2142.9,1212.9 2144.9,1069.6 2146.9,1213.1 2148.9,1094.6 2150.9,1195.7 2152.9,1101.2 2154.9,1205.0 2156.9,1113.6 2158.9,1200.9 2160.9,1103.5 2162.9,1046.4 2164.9,1108.4 2166.9,1212.7 2168.9,1098.5 2170.9,1219.6 2172.9,1089.9 2174.9,1244.8 2176.9,1101.6 2178.9,1223.5 2180.9,1099.1 2182.9,1195.9 2184.9,1084.1 2186.9,1208.3 2188.9,1106.4 2190.9,1209.1 2192.9,1098.1 2194.9,1200.7 2196.9,1127.0 2198.9,1192.0 2200.9,1099.3 2202.9,1240.5 2204.9,1107.5 2206.9,1246.1 2208.9,1104.0 2210.9,1029.9 2212.9,1097.9 2214.9,1238.0 2216.9,1106.9 2218.9,1222.6 2220.9,1102.3 2222.9,1233.8 2224.9,1087.1 2226.9,1229.8 2228.9,1070.2 2230.9,1229.2 2232.9,1083.8 2234.9,1217.6 2236.9,1087.7 2238.9,1212.8 2240.9,1101.5 2242.9,1195.8 2244.9,1107.7 2246.9,1226.2 2248.9,1046.4 2250.9,1206.6 2252.9,1081.3 2254.9,1198.6 2256.9,1088.4 2258.9,1206.1 2260.9,1051.1 2262.9,1203.5 2264.9,1092.8 2266.9,1206.5 2268.9,1084.7 2270.9,1236.3 2272.9,1095.2 2274.9,1199.9 2276.9,1080.3 2278.9,1200.0 2280.9,1122.1 2282.9,1198.8 2284.9,1098.7 2286.9,1226.6 2288.9,1105.0 2290.9,1200.1 2292.9,1093.5 2294.9,1217.2 2296.9,1080.5 2298.9,1206.7 2300.9,1101.2 2302.9,1019.0"/>
<polyline fill="none" stroke="#edb120" stroke-width="12.8" stroke-linejoin="round" stroke-linecap="round" shape-rendering="crispEdges"  points="292.0,247.0 299.3,354.5 315.9,650.0 335.3,999.3 354.3,1234.1 357.5,1308.3 359.5,1403.0 361.5,1293.6 363.5,1415.7 365.5,1327.5 367.5,1397.6 369.5,1308.6 371.5,1409.6 373.5,1306.5 375.5,1405.5 377.5,1254.3 379.5,1419.5 381.5,1307.3 383.5,1413.7 385.5,1301.6 387.5,1399.7 389.5,1311.0 391.5,1407.4 393.5,1306.3 395.5,1401.0 397.5,1291.1 399.5,1394.2 401.5,1299.1 403.5,1422.4 405.5,1300.8 407.5,1400.5 409.5,1301.7 411.5,1410.5 413.5,1315.5 415.5,1387.4 417.5,1312.8 419.5,1406.3 421.5,1285.3 423.5,1401.8 425.5,1301.1 427.5,1393.9 429.5,1315.3 431.5,1411.0 433.5,1295.8 435.5,1385.0 437.5,1312.6 439.5,1410.3 441.5,1306.5 443.5,1413.8 445.5,1315.4 447.5,1396.4 449.5,1291.1 451.5,1411.8 453.5,1322.1 455.5,1391.1 457.5,1317.0 459.5,1405.8 461.5,1315.7 463.5,1417.1 465.5,1308.0 467.5,1398.1 469.5,1319.5 471.5,1402.5 473.5,1305.6 475.5,1408.3 477.5,1307.9 479.5,1396.7 481.5,1314.6 483.5,1440.7 485.5,1313.4 487.5,1395.8 489.5,1293.2 491.5,1414.7 493.5,1313.8 495.5,1396.3 497.5,1302.4 499.5,1390.8 501.5,1299.2 503.5,1395.6 505.5,1299.5 507.5,1393.7 509.5,1307.2 511.5,1397.2 513.5,1299.1 515.5,1410.9 517.5,1304.7 519.5,1408.2 521.5,1313.8 523.5,1412.4 525.5,1310.8 527.5,1435.3 529.5,1294.0 531.5,1416.9 533.5,1305.5 535.5,1394.5 537.5,1307.4 539.5,1413.3 541.5,1314.7 543.5,1425.5 545.5,1291.2 547.5,1418.2 549.5,1293.1 551.5,1395.5 553.5,1288.2 555.5,1392.0 557.5,1305.2 559.5,1410.9 561.5,1300.7 563.5,1433.9 565.5,1314.7 567.5,1424.8 569.5,1300.8 571.5,1407.7 573.5,1325.2 575.5,1416.9 577.5,1317.8 579.5,1414.7 581.5,1312.3 583.5,1408.9 585.5,1310.6 587.5,1403.7 589.5,1296.4 591.5,1405.1 593.5,1302.3 595.5,1398.5 597.5,1316.8 599.5,1407.5 601.5,1294.4 603.5,1384.5 605.5,1298.5 607.5,1408.8 609.5,1292.3 611.5,1418.7 613.5,1302.4 615.5,1403.0 617.5,1308.0 619.5,1411.2 621.5,1309.1 623.5,1402.4 625.5,1301.7 627.5,1439.0 629.5,1320.8 631.5,1410.4 633.5,1302.1 635.5,1427.7 637.5,1305.7 639.5,1411.0 641.5,1275.7 643.5,1405.2 645.5,1305.2 647.5,1398.9 649.5,1293.7 651.5,1417.8 653.5,1302.1 655.5,1414.0 657.5,1280.0 659.5,1406.9 661.5,1293.6 663.5,1400.1 665.5,1295.3 667.5,1392.6 669.5,1301.3 671.5,1398.1 673.5,1319.8 675.5,1454.1 677.5,1296.4 679.5,1404.7 681.5,1305.1 683.5,1402.1 685.5,1287.6 687.5,1391.8 689.5,1308.8 691.5,1410.5 693.5,1299.5 695.5,1401.4 697.5,1298.1 699.5,1408.9 701.5,1308.2 703.5,1413.3 705.5,1324.7 707.5,1387.5 709.5,1300.3 711.5,1419.1 713.5,1315.5 715.5,1424.1 717.5,1315.6 719.5,1387.8 721.5,1276.8 723.5,1387.7 725.5,1313.6 727.5,1407.0 729.5,1296.4 731.5,1431.2 733.5,1306.7 735.5,1390.4 737.5,1300.7 739.5,1410.3 741.5,1300.3 743.5,1401.6 745.5,1322.5 747.5,1400.7 749.5,1287.7 751.5,1411.7 753.5,1312.0 755.5,1426.8 757.5,1309.0 759.5,1408.8 761.5,1291.4 763.5,1398.4 765.5,1308.6 767.5,1398.1 769.5,1307.9 771.5,1429.2 773.5,1313.7 775.5,1424.6 777.5,1285.7 779.5,1401.7 781.5,1287.7 783.5,1397.9 785.5,1302.0 787.5,1425.6 789.5,1298.1 791.5,1402.3 793.5,1290.9 795.5,1401.3 797.5,1317.6 799.5,1396.4 801.5,1330.8 803.5,1400.4 805.5,1301.5 807.5,1425.7 809.5,1302.0 811.5,1390.5 813.5,1306.9 815.5,1403.2 817.5,1283.9 819.5,1402.0 821.5,1304.7 823.5,1423.4 825.5,1311.8 827.5,1419.7 829.5,1311.1 831.5,1401.2 833.5,1306.5 835.5,1424.5 837.5,1311.7 839.5,1404.4 841.5,1308.8 843.5,1391.7 845.5,1279.4 847.5,1404.6 849.5,1323.1 851.5,1398.9 853.5,1302.5 855.5,1416.0 857.5,1308.8 859.5,1421.3 861.5,1315.2 863.5,1430.1 865.5,1310.4 867.5,1401.7 869.5,1310.1 871.5,1400.2 873.5,1324.5 875.5,1403.0 877.5,1306.8 879.5,1393.5 881.5,1305.8 883.5,1424.3 885.5,1316.9 887.5,1398.8 889.5,1311.8 891.5,1404.2 893.5,1323.6 895.5,1432.0 897.5,1313.0 899.5,1415.2 901.5,1304.8 903.5,1417.1 905.5,1296.3 907.5,1402.7 909.5,1322.0 911.5,1436.4 913.5,1317.4 915.5,1398.9 917.5,1310.6 919.5,1410.1 921.5,1295.6 923.5,1397.4 925.5,1301.8 927.5,1409.1 929.5,1313.5 931.5,1419.0 933.5,1290.7 935.5,1411.0 937.5,1314.4 939.5,1386.3 941.5,1278.8 943.5,1415.1 945.5,1309.2 947.5,1414.4 949.5,1305.2 951.5,1392.9 953.5,1287.9 955.5,1418.8 957.5,1308.9 959.5,1409.9 961.5,1301.2 963.5,1412.2 965.5,1292.5 967.5,1417.0 969.5,1307.9 971.5,1413.3 973.5,1308.3 975.5,1402.7 977.5,1290.9 979.5,1408.2 981.5,1301.8 983.5,1388.7 985.5,1304.7 987.5,1403.6 989.5,1301.0 991.5,1404.7 993.5,1323.5 995.5,1428.9 997.5,1283.5 999.5,1418.7 1001.5,1325.5 1003.5,1430.5 1005.5,1305.9 1007.5,1412.8 1009.5,1289.0 1011.5,1416.3 1013.5,1268.4 1015.5,1403.9 1017.5,1298.8 1019.5,1394.4 1021.5,1305.7 1023.5,1405.2 1025.5,1304.4 1027.5,1391.8 1029.5,1309.9 1031.5,1396.6 1033.5,1298.4 1035.5,1398.9 1037.5,1281.4 1039.5,1412.3 1041.5,1302.0 1043.5,1390.5 1045.5,1277.8 1047.5,1396.7 1049.5,1307.4 1051.5,1419.9 1053.5,1313.4 1055.5,1393.0 1057.5,1300.5 1059.5,1400.1 1061.5,1302.3 1063.5,1416.7 1065.5,1319.6 1067.5,1411.5 1069.5,1319.8 1071.5,1407.0 1073.5,1297.3 1075.5,1410.6 1077.5,1316.9 1079.5,1388.6 1081.5,1298.9 1083.5,1416.7 1085.5,1301.7 1087.5,1406.9 1089.5,1335.4 1091.5,1411.5 1093.5,1307.6 1095.5,1402.2 1097.5,1305.3 1099.5,1259.8 1101.5,1315.5 1103.5,1416.7 1105.5,1296.8 1107.5,1407.1 1109.5,1306.5 1111.5,1398.1 1113.5,1310.6 1115.5,1398.9 1117.5,1318.9 1119.5,1417.5 1121.5,1313.9 1123.5,1397.3 1125.5,1310.1 1127.5,1412.7 1129.5,1323.9 1131.5,1404.7 1133.5,1288.5 1135.5,1428.8 1137.5,1315.2 1139.5,1404.8 1141.5,1294.4 1143.5,1400.3 1145.5,1325.3 1147.5,1422.0 1149.5,1307.4 1151.5,1398.4 1153.5,1306.0 1155.5,1400.0 1157.5,1326.0 1159.5,1403.5 1161.5,1281.4 1163.5,1400.4 1165.5,1310.1 1167.5,1412.2 1169.5,1309.0 1171.5,1423.1 1173.5,1310.1 1175.5,1413.2 1177.5,1324.5 1179.5,1400.9 1181.5,1319.3 1183.5,1414.7 1185.5,1327.8 1187.5,1402.8 1189.5,1294.4 1191.5,1414.6 1193.5,1293.7 1195.5,1431.7 1197.5,1299.1 1199.5,1390.4 1201.5,1289.2 1203.5,1377.4 1205.5,1316.9 1207.5,1409.8 1209.5,1312.0 1211.5,1243.4 1213.5,1293.1 1215.5,1419.7 1217.5,1304.5 1219.5,1409.0 1221.5,1328.2 1223.5,1402.6 1225.5,1325.8 1227.5,1392.7 1229.5,1298.6 1231.5,1392.0 1233.5,1274.9 1235.5,1419.7 1237.5,1324.8 1239.5,1395.4 1241.5,1307.3 1243.5,1430.7 1245.5,1289.9 1247.5,1412.6 1249.5,1316.7 1251.5,1413.7 1253.5,1299.4 1255.5,1419.6 1257.5,1313.1 1259.5,1435.0 1261.5,1322.4 1263.5,1411.1 1265.5,1300.8 1267.5,1389.1 1269.5,1319.5 1271.5,1395.2 1273.5,1301.8 1275.5,1403.7 1277.5,1315.8 1279.5,1407.2 1281.5,1317.2 1283.5,1398.9 1285.5,1300.8 1287.5,1389.0 1289.5,1299.9 1291.5,1419.9 1293.5,1310.6 1295.5,1422.7 1297.1,1369.4 1297.8,207.2 1300.3,261.0 1304.9,364.4 1320.4,653.0 1336.8,999.3 1351.9,1250.0 1355.7,1294.1 1357.7,1391.7 1359.7,1283.2 1361.7,1377.8 1363.7,1307.7 1365.7,1394.4 1367.7,1296.7 1369.7,1394.2 1371.7,1281.6 1373.7,1369.1 1375.7,1279.4 1377.7,1403.0 1379.7,1297.6 1381.7,1390.0 1383.7,1283.5 1385.7,1418.0 1387.7,1281.3 1389.7,1400.3 1391.7,1276.9 1393.7,1393.2 1395.7,1291.8 1397.7,1397.8 1399.7,1314.4 1401.7,1385.5 1403.7,1266.9 1405.7,1395.9 1407.7,1289.8 1409.7,1377.7 1411.7,1289.0 1413.7,1388.1 1415.7,1285.2 1417.7,1401.8 1419.7,1280.4 1421.7,1385.4 1423.7,1289.4 1425.7,1391.7 1427.7,1271.0 1429.7,1406.2 1431.7,1283.3 1433.7,1399.4 1435.7,1267.7 1437.7,1379.7 1439.7,1287.1 1441.7,1392.2 1443.7,1290.2 1445.7,1381.7 1447.7,1280.7 1449.7,1382.4 1451.7,1294.6 1453.7,1399.8 1455.7,1286.5 1457.7,1417.1 1459.7,1284.1 1461.7,1403.7 1463.7,1302.7 1465.7,1378.8 1467.7,1269.0 1469.7,1383.7 1471.7,1300.4 1473.7,1395.3 1475.7,1285.5 1477.7,1411.1 1479.7,1287.1 1481.7,1380.4 1483.7,1282.6 1485.7,1390.1 1487.7,1299.1 1489.7,1400.0 1491.7,1294.1 1493.7,1376.5 1495.7,1277.0 1497.7,1395.3 1499.7,1294.6 1501.7,1378.6 1503.7,1286.7 1505.7,1373.9 1507.7,1295.0 1509.7,1408.5 1511.7,1266.7 1513.7,1405.8 1515.7,1313.7 1517.7,1377.4 1519.7,1298.7 1521.7,1381.9 1523.7,1304.1 1525.7,1390.1 1527.7,1286.0 1529.7,1413.0 1531.7,1299.9 1533.7,1416.8 1535.7,1279.0 1537.7,1414.4 1539.7,1278.6 1541.7,1386.7 1543.7,1309.3 1545.7,1392.2 1547.7,1267.6 1549.7,1386.7 1551.7,1286.2 1553.7,1385.0 1555.7,1298.1 1557.7,1408.4 1559.7,1280.6 1561.7,1391.2 1563.7,1249.8 1565.7,1389.3 1567.7,1289.3 1569.7,1389.5 1571.7,1280.7 1573.7,1414.7 1575.7,1280.1 1577.7,1388.5 1579.7,1291.8 1581.7,1402.2 1583.7,1302.2 1585.7,1394.2 1587.7,1298.4 1589.7,1395.9 1591.7,1310.2 1593.7,1393.1 1595.7,1297.4 1597.7,1392.1 1599.7,1284.1 1601.7,1379.8 1603.7,1282.6 1605.7,1385.7 1607.7,1272.6 1609.7,1386.8 1611.7,1301.5 1613.7,1395.5 1615.7,1302.3 1617.7,1404.3 1619.7,1303.3 1621.7,1389.9 1623.7,1291.0 1625.7,1374.2 1627.7,1291.2 1629.7,1388.6 1631.7,1295.3 1633.7,1413.7 1635.7,1296.8 1637.7,1373.2 1639.7,1283.2 1641.7,1395.1 1643.7,1286.7 1645.7,1422.2 1647.7,1281.6 1649.7,1401.8 1651.7,1293.6 1653.7,1394.9 1655.7,1308.4 1657.7,1410.3 1659.7,1289.8 1661.7,1403.0 1663.7,1279.9 1665.7,1399.0 1667.7,1254.1 1669.7,1435.8 1671.7,1308.8 1673.7,1378.9 1675.7,1303.4 1677.7,1386.3 1679.7,1294.9 1681.7,1400.8 1683.7,1292.4 1685.7,1395.6 1687.7,1312.1 1689.7,1389.9 1691.7,1227.0 1693.7,1385.3 1695.7,1294.3 1697.7,1391.3 1699.7,1293.4 1701.7,1393.3 1703.7,1299.4 1705.7,1403.3 1707.7,1280.7 1709.7,1380.1 1711.7,1262.9 1713.7,1375.2 1715.7,1275.4 1717.7,1398.1 1719.7,1304.0 1721.7,1384.0 1723.7,1277.7 1725.7,1382.1 1727.7,1299.0 1729.7,1403.6 1731.7,1287.7 1733.7,1397.9 1735.7,1300.6 1737.7,1383.1 1739.7,1286.9 1741.7,1387.8 1743.7,1297.8 1745.7,1387.7 1747.7,1287.7 1749.7,1374.7 1751.7,1295.0 1753.7,1391.9 1755.7,1289.0 1757.7,1408.3 1759.7,1290.7 1761.7,1366.7 1763.7,1303.2 1765.7,1375.8 1767.7,1305.3 1769.7,1414.5 1771.7,1266.1 1773.7,1386.0 1775.7,1272.5 1777.7,1396.1 1779.7,1292.5 1781.7,1389.9 1783.7,1268.4 1785.7,1382.6 1787.7,1299.8 1789.7,1385.7 1791.7,1288.7 1793.7,1380.0 1795.7,1293.5 1797.7,1387.9 1799.7,1295.4 1801.7,1388.7 1803.7,1291.6 1805.7,1372.5 1807.7,1292.5 1809.7,1392.3 1811.7,1291.1 1813.7,1410.7 1815.7,1292.7 1817.7,1394.2 1819.7,1264.6 1821.7,1373.6 1823.7,1303.4 1825.7,1375.0 1827.7,1282.3 1829.7,1395.1 1831.7,1296.5 1833.7,1400.5 1835.7,1285.7 1837.7,1409.2 1839.7,1276.2 1841.7,1404.9 1843.7,1280.2 1845.7,1423.1 1847.7,1278.9 1849.7,1412.5 1851.7,1280.7 1853.7,1402.1 1855.7,1273.2 1857.7,1400.7 1859.7,1313.4 1861.7,1419.1 1863.7,1285.6 1865.7,1392.3 1867.7,1292.9 1869.7,1399.2 1871.7,1302.5 1873.7,1389.2 1875.7,1303.6 1877.7,1393.1 1879.7,1303.2 1881.7,1396.9 1883.7,1295.0 1885.7,1404.3 1887.7,1289.8 1889.7,1384.9 1891.7,1294.9 1893.7,1392.4 1895.7,1287.8 1897.7,1389.8 1899.7,1300.3 1901.7,1406.6 1903.7,1287.8 1905.7,1391.0 1907.7,1305.6 1909.7,1415.1 1911.7,1297.3 1913.7,1396.2 1915.7,1300.7 1917.7,1386.0 1919.7,1300.0 1921.7,1386.1 1923.7,1301.3 1925.7,1386.4 1927.7,1284.3 1929.7,1377.1 1931.7,1283.5 1933.7,1380.3 1935.7,1290.3 1937.7,1387.4 1939.7,1290.3 1941.7,1414.7 1943.7,1301.9 1945.7,1394.7 1947.7,1296.6 1949.7,1383.3 1951.7,1295.5 1953.7,1381.9 1955.7,1274.9 1957.7,1418.0 1959.7,1298.0 1961.7,1392.2 1963.7,1291.5 1965.7,1394.2 1967.7,1280.1 1969.7,1397.3 1971.7,1289.2 1973.7,1400.1 1975.7,1284.8 1977.7,1405.3 1979.7,1283.3 1981.7,1382.9 1983.7,1305.3 1985.7,1402.5 1987.7,1304.0 1989.7,1393.7 1991.7,1281.5 1993.7,1397.9 1995.7,1300.2 1997.7,1376.0 1999.7,1292.2 2001.7,1383.6 2003.7,1302.4 2005.7,1383.5 2007.7,1282.6 2009.7,1389.9 2011.7,1298.4 2013.7,1376.4 2015.7,1275.4 2017.7,1402.1 2019.7,1275.9 2021.7,1400.4 2023.7,1301.4 2025.7,1381.2 2027.7,1296.9 2029.7,1399.3 2031.7,1284.3 2033.7,1395.0 2035.7,1252.0 2037.7,1381.2 2039.7,1299.9 2041.7,1371.8 2043.7,1296.1 2045.7,1401.2 2047.7,1307.8 2049.7,1396.8 2051.7,1286.9 2053.7,1376.4 2055.7,1283.3 2057.7,1395.6 2059.7,1287.5 2061.7,1372.6 2063.7,1286.5 2065.7,1388.8 2067.7,1286.6 2069.7,1427.0 2071.7,1291.0 2073.7,1392.2 2075.7,1303.4 2077.7,1382.5 2079.7,1295.7 2081.7,1393.3 2083.7,1317.2 2085.7,1399.9 2087.7,1291.6 2089.7,1390.6 2091.7,1301.7 2093.7,1382.1 2095.7,1307.8 2097.7,1384.4 2099.7,1285.6 2101.7,1388.6 2103.7,1300.8 2105.7,1407.0 2107.7,1263.8 2109.7,1396.4 2111.7,1267.7 2113.7,1400.4 2115.7,1294.3 2117.7,1379.5 2119.7,1291.4 2121.7,1391.2 2123.7,1288.7 2125.7,1387.5 2127.7,1280.0 2129.7,1384.1 2131.7,1265.5 2133.7,1402.2 2135.7,1286.7 2137.7,1380.2 2139.7,1311.6 2141.7,1387.0 2143.7,1296.4 2145.7,1381.3 2147.7,1277.0 2149.7,1379.1 2151.7,1267.8 2153.7,1372.7 2155.7,1288.3 2157.7,1374.5 2159.7,1302.9 2161.7,1395.8 2163.7,1295.0 2165.7,1374.2 2167.7,1284.9 2169.7,1381.8 2171.7,1300.9 2173.7,1385.6 2175.7,1290.5 2177.7,1404.0 2179.7,1304.0 2181.7,1388.7 2183.7,1296.4 2185.7,1408.5 2187.7,1285.5 2189.7,1394.7 2191.7,1287.8 2193.7,1413.0 2195.7,1283.0 2197.7,1391.5 2199.7,1295.3 2201.7,1378.4 2203.7,1290.6 2205.7,1372.0 2207.7,1289.6 2209.7,1392.7 2211.7,1295.3 2213.7,1395.8 2215.7,1298.6 2217.7,1383.2 2219.7,1302.7 2221.7,1416.6 2223.7,1302.0 2225.7,1384.3 2227.7,1276.5 2229.7,1390.7 2231.7,1304.2 2233.7,1378.6 2235.7,1286.3 2237.7,1387.4 2239.7,1273.9 2241.7,1380.3 2243.7,1267.4 2245.7,1408.5 2247.7,1272.6 2249.7,1412.0 2251.7,1295.6 2253.7,1422.9 2255.7,1266.5 2257.7,1399.4 2259.7,1290.7 2261.7,1395.4 2263.7,1295.1 2265.7,1388.6 2267.7,1294.6 2269.7,1403.0 2271.7,1292.7 2273.7,1387.8 2275.7,1301.2 2277.7,1394.4 2279.7,1304.0 2281.7,1390.0 2283.7,1274.9 2285.7,1397.2 2287.7,1307.4 2289.7,1385.7 2291.7,1309.7 2293.7,1366.0 2295.7,1291.6 2297.7,1403.5 2299.7,1285.8 2301.7,1400.9 2303.7,1248.9"/>
<polyline fill="none" stroke="#7e2f8e" stroke-width="12.8" stroke-linejoin="round" stroke-linecap="round" shape-rendering="crispEdges"  points="294.0,251.0 295.0,254.2 296.0,255.1 297.0,261.5 298.0,262.4 299.0,268.8 300.0,269.7 301.0,276.1 302.0,277.0 303.0,283.1 304.0,284.0 305.0,290.0 306.0,290.9 307.0,296.9 308.0,297.8 309.0,303.8 310.0,304.7 311.0,310.4 312.0,311.1 313.0,316.2 314.0,316.9 315.0,322.0 316.0,322.8 317.0,327.9 318.0,328.6 319.0,333.7 320.0,334.4 321.0,339.4 322.0,340.0 323.0,344.2 324.0,344.8 325.0,348.9 326.0,349.5 327.0,353.7 328.0,354.2 329.0,358.4 330.0,359.0 331.0,363.1 332.0,363.7 333.0,367.9 334.0,368.5 335.0,372.3 336.0,372.8 337.0,376.6 338.0,377.1 339.0,380.8 340.0,381.4 341.0,385.1 342.0,385.6 343.0,389.4 344.0,389.9 345.0,393.6 346.0,394.2 347.0,397.9 348.0,398.4 349.0,402.2 350.0,402.7 351.0,406.4 352.0,407.0 353.0,410.7 354.0,411.2 355.0,415.0 356.0,415.5 357.0,419.2 358.0,419.8 359.0,423.5 360.0,424.0 361.0,427.8 362.0,428.3 363.0,432.0 364.0,432.6 365.0,436.3 366.0,436.8 367.0,440.6 368.0,441.1 369.0,444.8 370.0,445.4 371.0,449.1 372.0,449.6 373.0,453.4 374.0,453.9 375.0,457.6 376.0,458.1 377.0,461.8 378.0,462.3 379.0,466.0 380.0,466.5 381.0,470.2 382.0,470.7 383.0,474.4 384.0,474.9 385.0,478.6 386.0,479.1 387.0,482.8 388.0,483.3 389.0,487.0 390.0,487.5 391.0,491.2 392.0,491.7 393.0,495.4 394.0,495.9 395.0,499.6 396.0,500.1 397.0,503.8 398.0,504.3 399.0,508.0 400.0,508.6 401.0,512.2 402.0,512.8 403.0,516.4 404.0,517.0 405.0,520.6 406.0,521.2 407.0,524.8 408.0,525.4 409.0,529.1 410.0,529.6 411.0,533.3 412.0,533.8 413.0,537.5 414.0,538.0 415.0,541.7 416.0,542.2 417.0,545.9 418.0,546.4 419.0,550.1 420.0,550.6 421.0,554.3 422.0,554.8 423.0,558.5 424.0,559.0 425.0,562.6 426.0,563.2 427.0,566.8 428.0,567.3 429.0,571.0 430.0,571.5 431.0,575.2 432.0,575.7 433.0,579.4 434.0,579.9 435.0,583.6 436.0,584.1 437.0,587.7 438.0,588.3 439.0,591.9 440.0,592.4 441.0,596.1 442.0,596.6 443.0,600.3 444.0,600.8 445.0,604.5 446.0,605.0 447.0,608.6 448.0,609.2 449.0,612.8 450.0,613.4 451.0,617.0 452.0,617.5 453.0,621.2 454.0,621.7 455.0,625.4 456.0,625.9 457.0,629.6 458.0,630.1 459.0,633.7 460.0,634.3 461.0,637.9 462.0,638.4 463.0,642.1 464.0,642.6 465.0,646.3 466.0,646.8 467.0,650.5 468.0,651.0 469.0,654.7 470.0,655.2 471.0,659.0 472.0,659.5 473.0,663.2 474.0,663.8 475.0,667.5 476.0,668.0 477.0,671.8 478.0,672.3 479.0,676.0 480.0,676.6 481.0,680.3 482.0,680.8 483.0,684.6 484.0,685.1 485.0,688.8 486.0,689.4 487.0,693.1 488.0,693.6 489.0,697.4 490.0,697.9 491.0,701.6 492.0,702.2 493.0,705.9 494.0,706.4 495.0,710.2 496.0,710.7 497.0,714.4 498.0,715.0 499.0,718.7 500.0,719.2 501.0,723.0 502.0,723.5 503.0,727.2 504.0,727.8 505.0,731.5 506.0,732.0 507.0,735.8 508.0,736.3 509.0,740.0 510.0,740.6 511.0,744.3 512.0,744.8 513.0,748.6 514.0,749.1 515.0,752.8 516.0,753.4 517.0,757.1 518.0,757.6 519.0,761.4 520.0,761.9 521.0,765.6 522.0,766.2 523.0,769.9 524.0,770.4 525.0,774.2 526.0,774.7 527.0,778.4 528.0,779.0 529.0,782.7 530.0,783.2 531.0,787.0 532.0,787.5 533.0,791.2 534.0,791.8 535.0,795.5 536.0,796.0 537.0,799.8 538.0,800.3 539.0,804.0 540.0,804.6 541.0,808.3 542.0,808.8 543.0,812.6 544.0,813.1 545.0,816.8 546.0,817.4 547.0,821.1 548.0,821.6 549.0,825.4 550.0,825.9 551.0,829.6 552.0,830.2 553.0,833.9 554.0,834.4 555.0,838.2 556.0,838.7 557.0,842.4 558.0,843.0 559.0,846.7 560.0,847.2 561.0,851.0 562.0,851.5 563.0,855.3 564.0,855.8 565.0,859.6 566.0,860.1 567.0,863.9 568.0,864.4 569.0,868.2 570.0,868.7 571.0,872.5 572.0,873.0 573.0,876.8 574.0,877.3 575.0,881.1 576.0,881.6 577.0,885.4 578.0,885.9 579.0,889.7 580.0,890.2 581.0,894.0 582.0,894.5 583.0,898.3 584.0,898.8 585.0,902.6 586.0,903.1 587.0,906.9 588.0,907.4 589.0,911.2 590.0,911.7 591.0,915.5 592.0,916.0 593.0,919.8 594.0,920.3 595.0,924.1 596.0,924.6 597.0,928.4 598.0,928.9 599.0,932.7 600.0,933.2 601.0,937.0 602.0,937.5 603.0,941.3 604.0,941.8 605.0,945.6 606.0,946.1 607.0,949.9 608.0,950.4 609.0,954.2 610.0,954.7 611.0,958.5 612.0,959.0 613.0,962.8 614.0,963.3 615.0,967.1 616.0,967.6 617.0,971.4 618.0,971.9 619.0,975.7 620.0,976.3 621.0,980.0 622.0,980.6 623.0,984.3 624.0,984.9 625.0,988.6 626.0,989.2 627.0,992.9 628.0,993.5 629.0,997.2 630.0,997.8 631.0,1001.5 632.0,1002.1 633.0,1005.8 634.0,1006.4 635.0,1010.1 636.0,1010.7 637.0,1014.4 638.0,1015.0 639.0,1018.7 640.0,1019.3 641.0,1023.0 642.0,1023.6 643.0,1027.3 644.0,1027.9 645.0,1031.6 646.0,1032.2 647.0,1035.9 648.0,1036.5 649.0,1040.2 650.0,1040.8 651.0,1044.5 652.0,1045.1 653.0,1048.8 654.0,1049.4 655.0,1053.0 656.0,1053.5 657.0,1057.1 658.0,1057.6 659.0,1061.2 660.0,1061.7 661.0,1065.3 662.0,1065.8 663.0,1069.3 664.0,1069.8 665.0,1073.4 666.0,1073.9 667.0,1077.5 668.0,1078.0 669.0,1081.6 670.0,1082.1 671.0,1085.6 672.0,1086.1 673.0,1089.7 674.0,1090.2 675.0,1093.8 676.0,1094.3 677.0,1097.9 678.0,1098.4 679.0,1101.9 680.0,1102.4 681.0,1106.0 682.0,1106.5 683.0,1110.1 684.0,1110.6 685.0,1114.2 686.0,1114.7 687.0,1118.2 688.0,1118.7 689.0,1122.3 690.0,1122.8 691.0,1126.4 692.0,1126.9 693.0,1130.5 694.0,1131.0 695.0,1134.5 696.0,1135.0 697.0,1138.6 698.0,1139.1 699.0,1142.7 700.0,1143.2 701.0,1146.7 702.0,1147.3 703.0,1150.9 704.0,1151.4 705.0,1155.4 706.0,1156.0 707.0,1159.9 708.0,1160.5 709.0,1164.4 710.0,1165.0 711.0,1169.0 712.0,1169.5 713.0,1173.5 714.0,1174.1 715.0,1178.0 716.0,1178.6 717.0,1182.6 718.0,1183.1 719.0,1187.1 720.0,1187.7 721.0,1191.6 722.0,1192.2 723.0,1196.2 724.0,1196.7 725.0,1200.7 726.0,1201.3 727.0,1205.2 728.0,1205.8 729.0,1209.7 730.0,1210.3 731.0,1214.3 732.0,1214.8 733.0,1218.8 734.0,1219.4 735.0,1223.3 736.0,1223.9 737.0,1227.9 738.0,1228.4 739.0,1232.4 740.0,1233.0 741.0,1236.9 742.0,1237.5 743.0,1241.5 744.0,1242.0 745.0,1246.0 746.0,1246.6 747.0,1250.5 748.0,1251.0 749.0,1254.5 750.0,1255.1 751.0,1258.6 752.0,1259.1 753.0,1262.7 754.0,1263.2 755.0,1266.8 756.0,1267.3 757.0,1270.9 758.0,1271.4 759.0,1275.0 760.0,1275.5 761.0,1279.0 762.0,1279.6 763.0,1283.1 764.0,1283.6 765.0,1287.2 766.0,1287.7 767.0,1291.3 768.0,1291.8 769.0,1295.4 770.0,1295.9 771.0,1299.5 772.0,1300.0 773.0,1303.0 774.0,1303.5 775.0,1306.4 776.0,1306.7 777.0,1310.0 778.0,1310.1 779.0,1313.6 780.0,1314.4 781.0,1319.6 782.0,1319.8 783.0,1323.1 784.0,1323.7 785.0,1327.1 786.0,1329.0 787.0,1333.1 788.0,1332.8 789.0,1336.2 790.0,1337.1 791.0,1340.0 792.0,1341.5 793.0,1344.2 794.0,1343.4 795.0,1346.7 796.0,1347.9 797.0,1349.7 798.0,1351.0 799.0,1354.6 800.0,1355.6 801.0,1358.9 802.0,1356.6 803.0,1359.2 804.0,1359.6 805.0,1363.2 806.0,1362.2 807.0,1358.0 808.0,1359.1 809.0,1364.8 810.0,1365.9 811.0,1372.3 812.0,1372.6 813.0,1379.6 814.0,1377.8 815.0,1386.2 816.0,1386.9 817.0,1392.0 818.0,1396.0 819.0,1392.0 820.0,1392.4 821.0,1396.4 822.0,1396.6 823.0,1404.0 824.0,1406.4 825.0,1400.3 826.0,1407.8 827.0,1413.9 828.0,1414.0 829.0,1421.5 830.0,1424.1 831.0,1415.0 832.0,1425.8 833.0,1415.5 834.0,1414.5 835.0,1419.6 836.0,1418.4 837.0,1430.9 838.0,1434.0 839.0,1441.3 840.0,1437.5 841.0,1431.5 842.0,1436.3 843.0,1427.1 844.0,1428.9 845.0,1438.4 846.0,1438.4 847.0,1450.1 848.0,1450.4 849.0,1442.9 850.0,1447.8 851.0,1455.3 852.0,1456.3 853.0,1446.5 854.0,1450.2 855.0,1434.6 856.0,1436.1 857.0,1448.4 858.0,1444.8 859.0,1453.3 860.0,1455.3 861.0,1442.0 862.0,1443.2 863.0,1458.9 864.0,1457.1 865.0,1467.9 866.0,1459.4 867.0,1471.5 868.0,1459.7 869.0,1473.2 870.0,1472.6 871.0,1487.2 872.0,1481.1 873.0,1511.8 874.0,1514.1 875.0,1500.4 876.0,1498.6 877.0,1519.9 878.0,1526.2 879.0,1511.8 880.0,1507.6 881.0,1488.2 882.0,1483.8 883.0,1516.8 884.0,1507.0 885.0,1522.6 886.0,1514.5 887.0,1504.3 888.0,1516.3 889.0,1501.9 890.0,1520.7 891.0,1501.9 892.0,1510.4 893.0,1494.8 894.0,1509.5 895.0,1521.8 896.0,1515.7 897.0,1528.2 898.0,1533.4 899.0,1516.5 900.0,1510.0 901.0,1524.8 902.0,1513.6 903.0,1531.0 904.0,1525.2 905.0,1504.9 906.0,1524.3 907.0,1533.6 908.0,1525.4 909.0,1568.5 910.0,1556.1 911.0,1528.5 912.0,1545.4 913.0,1528.3 914.0,1542.1 915.0,1560.1 916.0,1564.6 917.0,1578.2 918.0,1561.8 919.0,1540.2 920.0,1551.7 921.0,1542.3 922.0,1528.1 923.0,1555.2 924.0,1559.7 925.0,1583.6 926.0,1585.7 927.0,1606.1 928.0,1604.4 929.0,1588.0 930.0,1589.2 931.0,1569.5 932.0,1572.2 933.0,1554.4 934.0,1566.4 935.0,1553.3 936.0,1557.5 937.0,1539.4 938.0,1554.4 939.0,1535.3 940.0,1561.0 941.0,1539.6 942.0,1544.4 943.0,1569.0 944.0,1531.3 945.0,1572.2 946.0,1560.2 947.0,1582.0 948.0,1580.3 949.0,1631.3 950.0,1622.0 951.0,1586.4 952.0,1585.8 953.0,1559.0 954.0,1572.7 955.0,1535.9 956.0,1522.5 957.0,1552.7 958.0,1521.8 959.0,1552.7 960.0,1547.0 961.0,1583.0 962.0,1590.5 963.0,1555.4 964.0,1567.1 965.0,1602.8 966.0,1575.1 967.0,1561.9 968.0,1581.7 969.0,1552.3 970.0,1601.0 971.0,1618.3 972.0,1626.2 973.0,1586.8 974.0,1577.9 975.0,1599.6 976.0,1580.0 977.0,1565.2 978.0,1569.9 979.0,1540.5 980.0,1595.1 981.0,1569.2 982.0,1565.5 983.0,1534.7 984.0,1551.6 985.0,1533.7 986.0,1561.1 987.0,1531.4 988.0,1559.4 989.0,1602.1 990.0,1603.3 991.0,1546.9 992.0,1537.5 993.0,1561.1 994.0,1568.4 995.0,1548.3 996.0,1549.8 997.0,1573.7 998.0,1548.3 999.0,1586.1 1000.0,1568.9 1001.0,1587.4 1002.0,1582.1 1003.0,1533.0 1004.0,1550.5 1005.0,1589.0 1006.0,1601.8 1007.0,1580.1 1008.0,1595.5 1009.0,1561.6 1010.0,1565.4 1011.0,1595.0 1012.0,1597.6 1013.0,1569.1 1014.0,1570.2 1015.0,1551.3 1016.0,1548.3 1017.0,1581.9 1018.0,1535.0 1019.0,1590.1 1020.0,1596.0 1021.0,1537.1 1022.0,1557.4 1023.0,1526.7 1024.0,1515.0 1025.0,1545.5 1026.0,1553.3 1027.0,1584.1 1028.0,1571.7 1029.0,1537.8 1030.0,1566.4 1031.0,1513.2 1032.0,1525.7 1033.0,1572.6 1034.0,1577.9 1035.0,1563.1 1036.0,1575.7 1037.0,1534.4 1038.0,1517.6 1039.0,1539.3 1040.0,1542.6 1041.0,1572.1 1042.0,1549.7 1043.0,1522.8 1044.0,1541.0 1045.0,1511.0 1046.0,1515.9 1047.0,1577.7 1048.0,1561.1 1049.0,1618.5 1050.0,1607.6 1051.0,1572.4 1052.0,1584.7 1053.0,1525.9 1054.0,1526.5 1055.0,1546.6 1056.0,1514.9 1057.0,1555.2 1058.0,1554.5 1059.0,1529.3 1060.0,1547.1 1061.0,1559.4 1062.0,1559.4 1063.0,1544.3 1064.0,1564.4 1065.0,1608.0 1066.0,1596.6 1067.0,1560.7 1068.0,1541.3 1069.0,1573.9 1070.0,1556.2 1071.0,1535.3 1072.0,1531.7 1073.0,1587.3 1074.0,1584.7 1075.0,1600.0 1076.0,1611.2 1077.0,1590.4 1078.0,1588.6 1079.0,1559.1 1080.0,1565.0 1081.0,1530.9 1082.0,1537.1 1083.0,1556.5 1084.0,1545.7 1085.0,1569.0 1086.0,1574.3 1087.0,1592.0 1088.0,1588.9 1089.0,1572.8 1090.0,1575.2 1091.0,1606.6 1092.0,1597.6 1093.0,1616.0 1094.0,1605.9 1095.0,1582.3 1096.0,1577.6 1097.0,1611.1 1098.0,1633.9 1099.0,1612.8 1100.0,1606.2 1101.0,1622.2 1102.0,1604.7 1103.0,1628.8 1104.0,1612.6 1105.0,1552.7 1106.0,1538.4 1107.0,1572.0 1108.0,1573.5 1109.0,1616.7 1110.0,1615.7 1111.0,1591.7 1112.0,1582.1 1113.0,1635.5 1114.0,1570.9 1115.0,1538.5 1116.0,1546.1 1117.0,1596.1 1118.0,1610.5 1119.0,1567.7 1120.0,1559.8 1121.0,1535.7 1122.0,1540.3 1123.0,1507.9 1124.0,1521.8 1125.0,1479.3 1126.0,1483.7 1127.0,1525.1 1128.0,1512.6 1129.0,1545.4 1130.0,1549.0 1131.0,1531.5 1132.0,1555.7 1133.0,1515.6 1134.0,1511.0 1135.0,1533.8 1136.0,1505.4 1137.0,1540.4 1138.0,1535.1 1139.0,1583.9 1140.0,1599.1 1141.0,1550.5 1142.0,1534.2 1143.0,1549.8 1144.0,1540.6 1145.0,1528.0 1146.0,1542.4 1147.0,1564.5 1148.0,1555.7 1149.0,1519.8 1150.0,1545.0 1151.0,1560.6 1152.0,1560.0 1153.0,1529.9 1154.0,1523.0 1155.0,1504.8 1156.0,1491.2 1157.0,1565.6 1158.0,1561.0 1159.0,1535.1 1160.0,1534.1 1161.0,1570.9 1162.0,1535.5 1163.0,1563.5 1164.0,1568.8 1165.0,1551.2 1166.0,1563.0 1167.0,1597.1 1168.0,1556.7 1169.0,1593.8 1170.0,1587.8 1171.0,1553.6 1172.0,1569.8 1173.0,1592.3 1174.0,1568.8 1175.0,1586.2 1176.0,1560.8 1177.0,1527.9 1178.0,1567.2 1179.0,1500.5 1180.0,1542.9 1181.0,1503.4 1182.0,1496.4 1183.0,1516.2 1184.0,1514.6 1185.0,1541.7 1186.0,1511.4 1187.0,1540.8 1188.0,1547.0 1189.0,1530.1 1190.0,1550.9 1191.0,1582.2 1192.0,1587.3 1193.0,1613.2 1194.0,1618.6 1195.0,1591.3 1196.0,1593.5 1197.0,1633.0 1198.0,1624.0 1199.0,1596.5 1200.0,1621.7 1201.0,1596.9 1202.0,1586.3 1203.0,1550.1 1204.0,1543.3 1205.0,1585.8 1206.0,1545.3 1207.0,1575.4 1208.0,1552.5 1209.0,1588.2 1210.0,1587.7 1211.0,1537.3 1212.0,1572.9 1213.0,1544.6 1214.0,1517.2 1215.0,1572.8 1216.0,1557.8 1217.0,1597.6 1218.0,1560.5 1219.0,1621.7 1220.0,1610.3 1221.0,1580.2 1222.0,1570.7 1223.0,1554.8 1224.0,1550.7 1225.0,1580.6 1226.0,1574.1 1227.0,1534.4 1228.0,1526.4 1229.0,1572.3 1230.0,1569.7 1231.0,1552.9 1232.0,1561.0 1233.0,1533.2 1234.0,1556.5 1235.0,1523.8 1236.0,1547.3 1237.0,1517.1 1238.0,1533.1 1239.0,1513.7 1240.0,1510.3 1241.0,1541.0 1242.0,1532.1 1243.0,1546.0 1244.0,1538.2 1245.0,1509.5 1246.0,1531.2 1247.0,1495.0 1248.0,1480.5 1249.0,1510.5 1250.0,1506.0 1251.0,1486.6 1252.0,1480.3 1253.0,1507.5 1254.0,1498.8 1255.0,1538.1 1256.0,1519.5 1257.0,1560.6 1258.0,1542.0 1259.0,1570.0 1260.0,1578.7 1261.0,1550.0 1262.0,1578.7 1263.0,1551.1 1264.0,1555.0 1265.0,1593.5 1266.0,1546.7 1267.0,1588.9 1268.0,1594.8 1269.0,1557.4 1270.0,1574.8 1271.0,1546.1 1272.0,1554.6 1273.0,1535.9 1274.0,1539.4 1275.0,1512.0 1276.0,1532.8 1277.0,1490.4 1278.0,1515.8 1279.0,1503.7 1280.0,1530.7 1281.0,1499.9 1282.0,1496.6 1283.0,1526.8 1284.0,1512.9 1285.0,1549.2 1286.0,1530.9 1287.0,1504.0 1288.0,1511.7 1289.0,1570.5 1290.0,1583.0 1291.0,1565.7 1292.0,1568.8 1293.0,1588.3 1294.0,1586.3 1295.0,1554.8 1297.1,1548.5 1297.2,203.3 1298.2,208.4 1299.2,209.9 1300.2,220.1 1301.2,221.6 1302.2,231.9 1303.2,233.4 1304.2,243.6 1305.2,245.1 1306.2,255.1 1307.2,255.6 1308.2,259.2 1309.2,259.7 1310.2,263.3 1311.2,263.8 1312.2,267.4 1313.2,267.9 1314.2,271.4 1315.2,271.9 1316.2,275.5 1317.2,276.0 1318.2,280.1 1319.2,280.8 1320.2,285.7 1321.2,286.4 1322.2,291.2 1323.2,291.9 1324.2,296.8 1325.2,297.5 1326.2,302.4 1327.2,303.1 1328.2,307.9 1329.2,308.6 1330.2,313.0 1331.2,313.6 1332.2,318.0 1333.2,318.6 1334.2,323.0 1335.2,323.6 1336.2,327.9 1337.2,328.6 1338.2,332.9 1339.2,333.6 1340.2,337.9 1341.2,338.5 1342.2,342.8 1343.2,343.4 1344.2,347.7 1345.2,348.3 1346.2,352.6 1347.2,353.2 1348.2,357.4 1349.2,358.0 1350.2,362.3 1351.2,362.9 1352.2,366.9 1353.2,367.5 1354.2,371.1 1355.2,371.6 1356.2,375.3 1357.2,375.8 1358.2,379.5 1359.2,380.0 1360.2,383.7 1361.2,384.2 1362.2,387.8 1363.2,388.4 1364.2,392.0 1365.2,392.5 1366.2,396.2 1367.2,396.7 1368.2,400.4 1369.2,400.9 1370.2,404.5 1371.2,405.1 1372.2,408.7 1373.2,409.2 1374.2,412.9 1375.2,413.4 1376.2,417.1 1377.2,417.6 1378.2,421.3 1379.2,421.8 1380.2,425.4 1381.2,426.0 1382.2,429.6 1383.2,430.1 1384.2,433.8 1385.2,434.3 1386.2,438.0 1387.2,438.5 1388.2,442.2 1389.2,442.7 1390.2,446.3 1391.2,446.9 1392.2,450.5 1393.2,451.0 1394.2,454.7 1395.2,455.2 1396.2,459.0 1397.2,459.5 1398.2,463.3 1399.2,463.8 1400.2,467.6 1401.2,468.1 1402.2,471.8 1403.2,472.4 1404.2,476.1 1405.2,476.7 1406.2,480.4 1407.2,480.9 1408.2,484.7 1409.2,485.2 1410.2,489.0 1411.2,489.5 1412.2,493.3 1413.2,493.8 1414.2,497.5 1415.2,498.1 1416.2,501.8 1417.2,502.4 1418.2,506.1 1419.2,506.7 1420.2,510.4 1421.2,510.9 1422.2,514.7 1423.2,515.2 1424.2,519.0 1425.2,519.5 1426.2,523.3 1427.2,523.8 1428.2,527.5 1429.2,528.1 1430.2,531.8 1431.2,532.4 1432.2,536.1 1433.2,536.6 1434.2,540.4 1435.2,540.9 1436.2,544.7 1437.2,545.2 1438.2,549.0 1439.2,549.5 1440.2,553.2 1441.2,553.8 1442.2,557.5 1443.2,558.1 1444.2,561.8 1445.2,562.3 1446.2,566.1 1447.2,566.6 1448.2,570.4 1449.2,570.9 1450.2,574.7 1451.2,575.2 1452.2,579.0 1453.2,579.5 1454.2,583.2 1455.2,583.8 1456.2,587.5 1457.2,588.1 1458.2,591.8 1459.2,592.3 1460.2,596.1 1461.2,596.6 1462.2,600.4 1463.2,600.9 1464.2,604.7 1465.2,605.2 1466.2,608.9 1467.2,609.5 1468.2,613.2 1469.2,613.8 1470.2,617.5 1471.2,618.0 1472.2,621.8 1473.2,622.3 1474.2,626.1 1475.2,626.6 1476.2,630.4 1477.2,630.9 1478.2,634.6 1479.2,635.2 1480.2,638.9 1481.2,639.5 1482.2,643.2 1483.2,643.8 1484.2,647.5 1485.2,648.0 1486.2,651.8 1487.2,652.3 1488.2,656.0 1489.2,656.6 1490.2,660.3 1491.2,660.8 1492.2,664.5 1493.2,665.1 1494.2,668.8 1495.2,669.3 1496.2,673.0 1497.2,673.5 1498.2,677.3 1499.2,677.8 1500.2,681.5 1501.2,682.0 1502.2,685.7 1503.2,686.3 1504.2,690.0 1505.2,690.5 1506.2,694.2 1507.2,694.8 1508.2,698.5 1509.2,699.0 1510.2,702.7 1511.2,703.3 1512.2,707.0 1513.2,707.5 1514.2,711.2 1515.2,711.7 1516.2,715.5 1517.2,716.0 1518.2,719.7 1519.2,720.2 1520.2,723.9 1521.2,724.5 1522.2,728.2 1523.2,728.7 1524.2,732.4 1525.2,733.0 1526.2,736.7 1527.2,737.2 1528.2,740.9 1529.2,741.5 1530.2,745.2 1531.2,745.7 1532.2,749.4 1533.2,749.9 1534.2,753.7 1535.2,754.2 1536.2,757.9 1537.2,758.4 1538.2,762.1 1539.2,762.7 1540.2,766.4 1541.2,766.9 1542.2,770.6 1543.2,771.2 1544.2,774.9 1545.2,775.4 1546.2,779.1 1547.2,779.7 1548.2,783.4 1549.2,783.9 1550.2,787.6 1551.2,788.1 1552.2,791.9 1553.2,792.4 1554.2,796.1 1555.2,796.6 1556.2,800.3 1557.2,800.9 1558.2,804.6 1559.2,805.1 1560.2,808.8 1561.2,809.4 1562.2,813.1 1563.2,813.6 1564.2,817.3 1565.2,817.8 1566.2,821.6 1567.2,822.1 1568.2,825.8 1569.2,826.3 1570.2,830.0 1571.2,830.6 1572.2,834.3 1573.2,834.8 1574.2,838.5 1575.2,839.1 1576.2,842.8 1577.2,843.3 1578.2,847.0 1579.2,847.6 1580.2,851.3 1581.2,851.8 1582.2,855.2 1583.2,855.7 1584.2,859.1 1585.2,859.6 1586.2,863.0 1587.2,863.5 1588.2,866.9 1589.2,867.4 1590.2,870.8 1591.2,871.3 1592.2,874.8 1593.2,875.2 1594.2,878.7 1595.2,879.1 1596.2,882.6 1597.2,883.0 1598.2,886.5 1599.2,886.9 1600.2,890.4 1601.2,890.9 1602.2,894.3 1603.2,894.8 1604.2,898.2 1605.2,898.7 1606.2,902.1 1607.2,902.6 1608.2,906.0 1609.2,906.5 1610.2,909.9 1611.2,910.4 1612.2,913.8 1613.2,914.3 1614.2,917.7 1615.2,918.2 1616.2,921.6 1617.2,922.1 1618.2,925.5 1619.2,926.0 1620.2,929.4 1621.2,929.9 1622.2,933.3 1623.2,933.8 1624.2,937.2 1625.2,937.7 1626.2,941.1 1627.2,941.6 1628.2,945.0 1629.2,945.5 1630.2,948.9 1631.2,949.4 1632.2,952.8 1633.2,953.3 1634.2,956.7 1635.2,957.2 1636.2,960.6 1637.2,961.1 1638.2,964.5 1639.2,965.0 1640.2,968.4 1641.2,968.9 1642.2,972.3 1643.2,972.8 1644.2,976.2 1645.2,976.7 1646.2,980.1 1647.2,980.6 1648.2,984.0 1649.2,984.5 1650.2,988.0 1651.2,988.4 1652.2,991.9 1653.2,992.3 1654.2,995.8 1655.2,996.2 1656.2,999.7 1657.2,1000.2 1658.2,1003.6 1659.2,1004.1 1660.2,1007.5 1661.2,1008.0 1662.2,1011.4 1663.2,1011.9 1664.2,1015.3 1665.2,1015.8 1666.2,1019.2 1667.2,1019.7 1668.2,1023.1 1669.2,1023.6 1670.2,1027.0 1671.2,1027.5 1672.2,1030.9 1673.2,1031.4 1674.2,1034.8 1675.2,1035.3 1676.2,1038.7 1677.2,1039.2 1678.2,1042.6 1679.2,1043.1 1680.2,1046.5 1681.2,1047.0 1682.2,1050.4 1683.2,1050.9 1684.2,1055.2 1685.2,1055.8 1686.2,1060.1 1687.2,1060.7 1688.2,1065.0 1689.2,1065.6 1690.2,1069.9 1691.2,1070.5 1692.2,1074.8 1693.2,1075.4 1694.2,1079.7 1695.2,1080.3 1696.2,1084.6 1697.2,1085.2 1698.2,1089.5 1699.2,1090.1 1700.2,1094.4 1701.2,1095.1 1702.2,1099.4 1703.2,1100.0 1704.2,1104.3 1705.2,1104.9 1706.2,1109.2 1707.2,1109.8 1708.2,1114.1 1709.2,1114.7 1710.2,1119.0 1711.2,1119.6 1712.2,1123.9 1713.2,1124.5 1714.2,1128.8 1715.2,1129.4 1716.2,1133.7 1717.2,1134.3 1718.2,1138.6 1719.2,1139.2 1720.2,1143.5 1721.2,1144.2 1722.2,1148.5 1723.2,1149.1 1724.2,1153.0 1725.2,1153.5 1726.2,1157.3 1727.2,1157.8 1728.2,1161.6 1729.2,1162.1 1730.2,1165.9 1731.2,1166.4 1732.2,1170.1 1733.2,1170.7 1734.2,1174.4 1735.2,1175.0 1736.2,1178.7 1737.2,1179.2 1738.2,1183.0 1739.2,1183.5 1740.2,1187.3 1741.2,1187.8 1742.2,1191.6 1743.2,1192.1 1744.2,1195.8 1745.2,1196.4 1746.2,1200.1 1747.2,1200.7 1748.2,1204.4 1749.2,1204.9 1750.2,1208.7 1751.2,1209.2 1752.2,1213.0 1753.2,1213.5 1754.2,1217.3 1755.2,1217.8 1756.2,1221.5 1757.2,1222.1 1758.2,1225.8 1759.2,1226.4 1760.2,1230.1 1761.2,1230.7 1762.2,1234.4 1763.2,1234.9 1764.2,1238.7 1765.2,1239.2 1766.2,1243.0 1767.2,1243.5 1768.2,1247.3 1769.2,1247.8 1770.2,1251.7 1771.2,1252.3 1772.2,1256.6 1773.2,1257.2 1774.2,1261.4 1775.2,1262.0 1776.2,1266.2 1777.2,1266.8 1778.2,1271.0 1779.2,1271.6 1780.2,1275.9 1781.2,1276.5 1782.2,1280.7 1783.2,1281.3 1784.2,1285.5 1785.2,1286.1 1786.2,1290.3 1787.2,1290.9 1788.2,1295.2 1789.2,1295.8 1790.2,1300.0 1791.2,1300.6 1792.2,1304.8 1793.2,1305.4 1794.2,1309.6 1795.2,1310.2 1796.2,1314.5 1797.2,1315.1 1798.2,1319.3 1799.2,1319.9 1800.2,1324.1 1801.2,1324.7 1802.2,1328.9 1803.2,1329.5 1804.2,1333.8 1805.2,1334.4 1806.2,1338.6 1807.2,1339.2 1808.2,1343.4 1809.2,1343.9 1810.2,1346.7 1811.2,1347.1 1812.2,1350.0 1813.2,1350.4 1814.2,1353.3 1815.2,1353.7 1816.2,1356.5 1817.2,1357.0 1818.2,1359.8 1819.2,1360.2 1820.2,1363.1 1821.2,1363.5 1822.2,1366.4 1823.2,1366.8 1824.2,1369.6 1825.2,1370.1 1826.2,1373.0 1827.2,1373.4 1828.2,1376.0 1829.2,1376.3 1830.2,1378.8 1831.2,1379.2 1832.2,1381.8 1833.2,1382.8 1834.2,1385.1 1835.2,1385.6 1836.2,1389.0 1837.2,1389.6 1838.2,1391.6 1839.2,1392.2 1840.2,1395.3 1841.2,1396.3 1842.2,1394.4 1843.2,1395.4 1844.2,1400.4 1845.2,1398.7 1846.2,1400.0 1847.2,1397.6 1848.2,1399.5 1849.2,1400.8 1850.2,1399.7 1851.2,1400.5 1852.2,1403.5 1853.2,1402.5 1854.2,1410.7 1855.2,1410.8 1856.2,1416.6 1857.2,1417.0 1858.2,1420.9 1859.2,1421.8 1860.2,1418.9 1861.2,1419.5 1862.2,1431.1 1863.2,1431.3 1864.2,1426.6 1865.2,1435.5 1866.2,1431.2 1867.2,1434.9 1868.2,1427.5 1869.2,1436.4 1870.2,1440.7 1871.2,1445.4 1872.2,1451.2 1873.2,1452.7 1874.2,1445.0 1875.2,1447.1 1876.2,1441.8 1877.2,1444.4 1878.2,1448.4 1879.2,1443.3 1880.2,1447.1 1881.2,1439.9 1882.2,1446.1 1883.2,1455.1 1884.2,1460.6 1885.2,1463.7 1886.2,1458.2 1887.2,1457.6 1888.2,1464.3 1889.2,1468.6 1890.2,1460.4 1891.2,1460.2 1892.2,1477.8 1893.2,1483.0 1894.2,1465.6 1895.2,1471.2 1896.2,1480.9 1897.2,1477.8 1898.2,1498.4 1899.2,1501.6 1900.2,1517.2 1901.2,1509.4 1902.2,1500.1 1903.2,1495.5 1904.2,1515.0 1905.2,1520.7 1906.2,1506.0 1907.2,1518.6 1908.2,1500.7 1909.2,1502.9 1910.2,1494.1 1911.2,1492.6 1912.2,1510.0 1913.2,1506.1 1914.2,1515.9 1915.2,1504.2 1916.2,1486.1 1917.2,1478.1 1918.2,1492.4 1919.2,1490.2 1920.2,1504.6 1921.2,1493.6 1922.2,1508.6 1923.2,1507.3 1924.2,1486.9 1925.2,1482.7 1926.2,1520.2 1927.2,1496.9 1928.2,1484.6 1929.2,1497.1 1930.2,1465.2 1931.2,1473.5 1932.2,1495.1 1933.2,1486.4 1934.2,1505.4 1935.2,1487.4 1936.2,1505.8 1937.2,1496.5 1938.2,1510.8 1939.2,1495.2 1940.2,1524.0 1941.2,1519.2 1942.2,1496.5 1943.2,1517.0 1944.2,1550.6 1945.2,1554.1 1946.2,1514.1 1947.2,1519.6 1948.2,1544.1 1949.2,1511.1 1950.2,1523.9 1951.2,1512.2 1952.2,1500.0 1953.2,1510.4 1954.2,1496.1 1955.2,1501.7 1956.2,1515.7 1957.2,1523.9 1958.2,1545.7 1959.2,1561.2 1960.2,1538.4 1961.2,1531.4 1962.2,1557.3 1963.2,1535.4 1964.2,1563.8 1965.2,1562.7 1966.2,1548.3 1967.2,1549.9 1968.2,1567.6 1969.2,1592.2 1970.2,1550.2 1971.2,1546.4 1972.2,1573.2 1973.2,1550.1 1974.2,1569.1 1975.2,1546.2 1976.2,1586.8 1977.2,1545.8 1978.2,1585.3 1979.2,1576.4 1980.2,1603.7 1981.2,1584.3 1982.2,1573.6 1983.2,1606.8 1984.2,1579.2 1985.2,1575.5 1986.2,1544.1 1987.2,1538.7 1988.2,1575.1 1989.2,1572.8 1990.2,1521.5 1991.2,1521.6 1992.2,1553.9 1993.2,1568.6 1994.2,1553.2 1995.2,1541.5 1996.2,1530.6 1997.2,1533.8 1998.2,1507.9 1999.2,1517.6 2000.2,1554.2 2001.2,1556.4 2002.2,1565.8 2003.2,1563.2 2004.2,1528.4 2005.2,1531.8 2006.2,1547.2 2007.2,1530.3 2008.2,1500.2 2009.2,1525.8 2010.2,1508.7 2011.2,1522.0 2012.2,1554.0 2013.2,1556.0 2014.2,1567.1 2015.2,1580.9 2016.2,1549.2 2017.2,1528.2 2018.2,1554.5 2019.2,1539.5 2020.2,1570.7 2021.2,1552.6 2022.2,1513.0 2023.2,1519.9 2024.2,1556.8 2025.2,1558.6 2026.2,1579.7 2027.2,1563.4 2028.2,1547.4 2029.2,1542.5 2030.2,1516.3 2031.2,1502.9 2032.2,1548.2 2033.2,1549.4 2034.2,1560.7 2035.2,1564.4 2036.2,1583.3 2037.2,1584.9 2038.2,1560.3 2039.2,1570.8 2040.2,1608.9 2041.2,1602.3 2042.2,1584.0 2043.2,1607.3 2044.2,1587.7 2045.2,1569.3 2046.2,1506.8 2047.2,1557.6 2048.2,1515.2 2049.2,1556.6 2050.2,1575.7 2051.2,1562.8 2052.2,1542.7 2053.2,1549.0 2054.2,1532.1 2055.2,1537.7 2056.2,1564.4 2057.2,1566.6 2058.2,1552.0 2059.2,1579.0 2060.2,1530.8 2061.2,1520.2 2062.2,1549.5 2063.2,1548.3 2064.2,1575.4 2065.2,1558.6 2066.2,1527.1 2067.2,1561.3 2068.2,1521.3 2069.2,1536.6 2070.2,1510.3 2071.2,1506.2 2072.2,1579.5 2073.2,1584.1 2074.2,1548.7 2075.2,1549.9 2076.2,1562.4 2077.2,1559.3 2078.2,1572.3 2079.2,1587.9 2080.2,1554.7 2081.2,1540.0 2082.2,1571.2 2083.2,1554.0 2084.2,1594.6 2085.2,1592.3 2086.2,1549.5 2087.2,1540.8 2088.2,1558.0 2089.2,1559.9 2090.2,1516.0 2091.2,1514.6 2092.2,1566.7 2093.2,1545.7 2094.2,1581.5 2095.2,1577.8 2096.2,1545.4 2097.2,1547.4 2098.2,1518.3 2099.2,1515.7 2100.2,1531.0 2101.2,1529.1 2102.2,1510.1 2103.2,1538.1 2104.2,1564.9 2105.2,1554.8 2106.2,1568.5 2107.2,1572.5 2108.2,1535.6 2109.2,1570.4 2110.2,1527.9 2111.2,1540.5 2112.2,1512.8 2113.2,1517.6 2114.2,1496.9 2115.2,1496.0 2116.2,1517.3 2117.2,1494.2 2118.2,1477.1 2119.2,1493.5 2120.2,1560.0 2121.2,1558.3 2122.2,1576.7 2123.2,1556.2 2124.2,1585.8 2125.2,1573.7 2126.2,1545.9 2127.2,1562.5 2128.2,1540.8 2129.2,1565.6 2130.2,1541.8 2131.2,1562.6 2132.2,1524.0 2133.2,1541.4 2134.2,1583.4 2135.2,1550.8 2136.2,1579.1 2137.2,1561.6 2138.2,1581.9 2139.2,1571.1 2140.2,1536.4 2141.2,1548.7 2142.2,1576.7 2143.2,1572.5 2144.2,1547.1 2145.2,1557.5 2146.2,1580.8 2147.2,1579.6 2148.2,1556.5 2149.2,1603.7 2150.2,1558.8 2151.2,1572.9 2152.2,1549.3 2153.2,1545.8 2154.2,1521.6 2155.2,1529.7 2156.2,1500.7 2157.2,1525.6 2158.2,1566.3 2159.2,1570.3 2160.2,1585.5 2161.2,1567.6 2162.2,1545.9 2163.2,1559.3 2164.2,1525.5 2165.2,1550.6 2166.2,1589.8 2167.2,1570.3 2168.2,1518.1 2169.2,1517.9 2170.2,1541.0 2171.2,1543.4 2172.2,1578.4 2173.2,1543.9 2174.2,1524.3 2175.2,1522.1 2176.2,1528.8 2177.2,1542.9 2178.2,1515.1 2179.2,1533.9 2180.2,1512.2 2181.2,1516.8 2182.2,1509.6 2183.2,1509.1 2184.2,1497.8 2185.2,1493.9 2186.2,1513.7 2187.2,1523.1 2188.2,1497.3 2189.2,1504.0 2190.2,1552.5 2191.2,1546.1 2192.2,1564.2 2193.2,1541.5 2194.2,1570.4 2195.2,1565.3 2196.2,1581.1 2197.2,1562.3 2198.2,1542.0 2199.2,1577.8 2200.2,1557.7 2201.2,1536.4 2202.2,1563.3 2203.2,1558.6 2204.2,1522.8 2205.2,1550.0 2206.2,1535.9 2207.2,1550.4 2208.2,1521.1 2209.2,1520.4 2210.2,1490.9 2211.2,1520.8 2212.2,1540.1 2213.2,1538.4 2214.2,1553.1 2215.2,1555.3 2216.2,1589.3 2217.2,1552.6 2218.2,1520.5 2219.2,1521.9 2220.2,1552.4 2221.2,1545.2 2222.2,1517.8 2223.2,1501.5 2224.2,1538.7 2225.2,1501.0 2226.2,1545.9 2227.2,1548.3 2228.2,1508.8 2229.2,1520.0 2230.2,1539.2 2231.2,1537.8 2232.2,1591.7 2233.2,1576.4 2234.2,1595.6 2235.2,1579.0 2236.2,1609.5 2237.2,1611.7 2238.2,1584.1 2239.2,1595.9 2240.2,1551.8 2241.2,1558.0 2242.2,1528.1 2243.2,1553.8 2244.2,1502.5 2245.2,1484.2 2246.2,1515.8 2247.2,1532.9 2248.2,1556.4 2249.2,1573.2 2250.2,1529.7 2251.2,1521.7 2252.2,1545.1 2253.2,1537.5 2254.2,1512.6 2255.2,1520.5 2256.2,1498.5 2257.2,1531.7 2258.2,1561.8 2259.2,1595.9 2260.2,1570.5 2261.2,1589.5 2262.2,1539.2 2263.2,1535.0 2264.2,1562.4 2265.2,1585.3 2266.2,1526.6 2267.2,1568.6 2268.2,1523.8 2269.2,1528.1 2270.2,1509.9 2271.2,1504.4 2272.2,1490.7 2273.2,1502.3 2274.2,1535.6 2275.2,1537.6 2276.2,1511.0 2277.2,1519.4 2278.2,1492.8 2279.2,1498.5 2280.2,1541.0 2281.2,1529.1 2282.2,1503.0 2283.2,1521.8 2284.2,1579.5 2285.2,1562.1 2286.2,1541.2 2287.2,1550.3 2288.2,1569.6 2289.2,1581.1 2290.2,1552.6 2291.2,1551.2 2292.2,1589.4 2293.2,1549.9 2294.2,1579.4 2295.2,1579.8 2296.2,1563.1 2297.2,1545.7 2298.2,1556.1 2299.2,1545.3 2300.2,1589.0 2301.2,1575.9 2302.2,1550.8 2303.2,1580.7 2304.2,1526.6"/>
<g font-family="Liberation Sans, Arial, sans-serif" font-size="63.5" fill="#262626">
<text x="264.5" y="80.5" text-anchor="end">10</text>
<text x="262.5" y="279.7" text-anchor="end">0</text>
<text x="262.5" y="478.8" text-anchor="end">-10</text>
<text x="262.5" y="678.0" text-anchor="end">-20</text>
<text x="262.5" y="877.1" text-anchor="end">-30</text>
<text x="262.5" y="1076.3" text-anchor="end">-40</text>
<text x="262.5" y="1275.4" text-anchor="end">-50</text>
<text x="262.5" y="1474.6" text-anchor="end">-60</text>
<text x="262.5" y="1673.7" text-anchor="end">-70</text>
<text x="288.8" y="1737.8" text-anchor="middle">0</text>
<text x="540.5" y="1737.8" text-anchor="middle">2</text>
<text x="792.2" y="1737.8" text-anchor="middle">4</text>
<text x="1044.0" y="1737.8" text-anchor="middle">6</text>
<text x="1295.8" y="1737.8" text-anchor="middle">8</text>
<text x="1549.5" y="1737.8" text-anchor="middle">10</text>
<text x="1801.2" y="1737.8" text-anchor="middle">12</text>
<text x="2053.0" y="1737.8" text-anchor="middle">14</text>
<text x="2304.8" y="1737.8" text-anchor="middle">16</text>
</g>
<text transform="translate(1296,1829) scale(0.985,1)" text-anchor="middle" font-family="Liberation Sans, Arial, sans-serif" font-size="69" fill="#262626">Iterations</text>
<g font-family="Liberation Sans, Arial, sans-serif" fill="#262626">
<text x="2160" y="1847" font-size="71">×</text>
<text x="2208" y="1839" font-size="62">10</text>
<text x="2275.5" y="1811" font-size="51">4</text>
</g>
<g transform="translate(111,0) rotate(-90)" font-family="Liberation Serif, serif" fill="#262626">
<text x="-1067.6" y="0" font-size="73" transform="translate(-1067.6,0) scale(0.97,1) translate(1067.6,0)">NM</text>
<text transform="translate(-947.2,24.4) scale(0.62,0.985)" font-size="134" font-weight="300" font-family="Noto Sans CJK JP, sans-serif">[</text>
<text x="-919.7" y="0" font-size="73" font-weight="bold">f</text>
<text x="-893" y="0" font-size="73">,</text>
<text x="-858" y="0" font-size="73" font-weight="bold">f</text>
<text x="-866.8" y="-59.2" font-size="44" font-family="Noto Sans CJK JP, sans-serif">︿</text>
<text transform="translate(-830.6,24.4) scale(0.62,0.985)" font-size="134" font-weight="300" font-family="Noto Sans CJK JP, sans-serif">]</text>
<text x="-770.6" y="0" font-size="73">(dB)</text>
</g>
<rect x="1403" y="59.5" width="897" height="321.5" fill="#ffffff" stroke="#262626" stroke-width="3.6"/>
<rect x="1422" y="97.0" width="187" height="13" fill="#0072bd"/>
<rect x="1422" y="170.8" width="187" height="13" fill="#d95319"/>
<rect x="1422" y="249.3" width="187" height="13" fill="#edb120"/>
<rect x="1422" y="327.0" width="187" height="13" fill="#7e2f8e"/>
<g font-family="Liberation Serif, serif" fill="#000000">
<text x="1622" y="117.3" font-size="60" textLength="252.5" lengthAdjust="spacingAndGlyphs">OLMS-BF</text>
<text x="1622" y="187.3" font-size="60" textLength="250.5" lengthAdjust="spacingAndGlyphs">NLMS-BF</text>
<text x="1876.7" y="185.3" font-size="60">,</text>
<text transform="translate(1909.0,187.3) scale(1.1,1)" font-size="56" font-style="italic">α</text>
<text x="1945.0" y="211.3" font-size="41" font-weight="bold">h</text>
<text x="1940.5" y="175.0" font-size="34" font-family="Noto Sans CJK JP, sans-serif">︿</text>
<text transform="translate(2046.6,187.3) scale(1.1,1)" font-size="56" font-style="italic">α</text>
<text x="2082.0" y="206.0" font-size="41" font-weight="bold">g</text>
<text x="2076.0" y="175.0" font-size="34" font-family="Noto Sans CJK JP, sans-serif">︿</text>
<text transform="translate(1986.4,192.0) scale(1.375,1)" font-size="60">=</text>
<text transform="translate(2121.9,192.0) scale(1.375,1)" font-size="60">=</text>
<text x="2181.5" y="187.3" font-size="60">0.5</text>
<text x="1622" y="265.0" font-size="60" textLength="250.5" lengthAdjust="spacingAndGlyphs">NLMS-BF</text>
<text x="1876.7" y="263.0" font-size="60">,</text>
<text transform="translate(1909.0,265.0) scale(1.1,1)" font-size="56" font-style="italic">α</text>
<text x="1945.0" y="289.0" font-size="41" font-weight="bold">h</text>
<text x="1940.5" y="252.7" font-size="34" font-family="Noto Sans CJK JP, sans-serif">︿</text>
<text transform="translate(2046.6,265.0) scale(1.1,1)" font-size="56" font-style="italic">α</text>
<text x="2082.0" y="283.7" font-size="41" font-weight="bold">g</text>
<text x="2076.0" y="252.7" font-size="34" font-family="Noto Sans CJK JP, sans-serif">︿</text>
<text transform="translate(1986.4,269.7) scale(1.375,1)" font-size="60">=</text>
<text transform="translate(2121.9,269.7) scale(1.375,1)" font-size="60">=</text>
<text x="2181.5" y="265.0" font-size="60">0.1</text>
<text x="1622" y="342.8" font-size="60" textLength="250.5" lengthAdjust="spacingAndGlyphs">NLMS-BF</text>
<text x="1876.7" y="340.8" font-size="60">,</text>
<text transform="translate(1909.0,342.8) scale(1.1,1)" font-size="56" font-style="italic">α</text>
<text x="1945.0" y="366.8" font-size="41" font-weight="bold">h</text>
<text x="1940.5" y="330.5" font-size="34" font-family="Noto Sans CJK JP, sans-serif">︿</text>
<text transform="translate(2046.6,342.8) scale(1.1,1)" font-size="56" font-style="italic">α</text>
<text x="2082.0" y="361.5" font-size="41" font-weight="bold">g</text>
<text x="2076.0" y="330.5" font-size="34" font-family="Noto Sans CJK JP, sans-serif">︿</text>
<text transform="translate(1986.4,347.5) scale(1.375,1)" font-size="60">=</text>
<text transform="translate(2121.9,347.5) scale(1.375,1)" font-size="60">=</text>
<text x="2181.5" y="342.8" font-size="60">0.01</text>
</g>
</svg>
</body></html>
